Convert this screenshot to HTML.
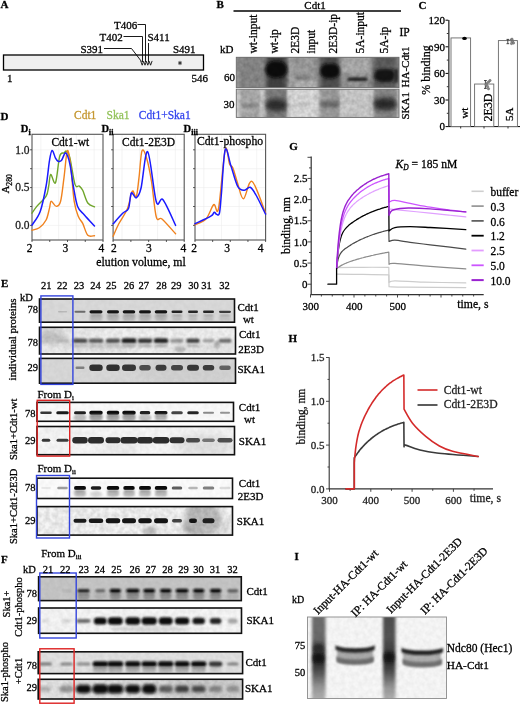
<!DOCTYPE html>
<html><head><meta charset="utf-8"><style>
html,body{margin:0;padding:0;background:#fff;}
body{width:520px;height:706px;overflow:hidden;}
svg{display:block;}
text{font-family:"Liberation Serif",serif;stroke:currentColor;stroke-width:0.28px;}
svg{filter:blur(0.3px);}
</style></head><body>
<svg width="520" height="706" viewBox="0 0 520 706">
<defs>
<filter id="b06" x="-50%" y="-50%" width="200%" height="200%"><feGaussianBlur stdDeviation="0.6"/></filter>
<filter id="b1" x="-50%" y="-50%" width="200%" height="200%"><feGaussianBlur stdDeviation="1"/></filter>
<filter id="b15" x="-50%" y="-50%" width="200%" height="200%"><feGaussianBlur stdDeviation="1.5"/></filter>
<filter id="b25" x="-50%" y="-50%" width="200%" height="200%"><feGaussianBlur stdDeviation="2.5"/></filter>
<filter id="b4" x="-50%" y="-50%" width="200%" height="200%"><feGaussianBlur stdDeviation="4"/></filter>
<filter id="noise" x="0" y="0" width="100%" height="100%"><feTurbulence type="fractalNoise" baseFrequency="0.22" numOctaves="2" seed="3"/><feColorMatrix type="matrix" values="0 0 0 0 0  0 0 0 0 0  0 0 0 0 0  0 0 0 -1.4 1.05"/></filter>
</defs>
<rect x="0" y="0" width="520" height="706" fill="#fff"/>
<text x="0.50" y="8.20" font-size="11" fill="#000" color="#000" font-weight="bold" text-anchor="start"  style="">A</text>
<rect x="3.50" y="55.00" width="200.00" height="15.00" fill="#efefef" stroke="#000" stroke-width="1.3" />
<text x="7.00" y="82.00" font-size="11" fill="#000" color="#000" font-weight="normal" text-anchor="start"  style="">1</text>
<text x="191.50" y="82.00" font-size="11" fill="#000" color="#000" font-weight="normal" text-anchor="start"  style="">546</text>
<text x="80.50" y="53.00" font-size="11" fill="#000" color="#000" font-weight="normal" text-anchor="start"  style="">S391</text>
<text x="99.50" y="41.00" font-size="11" fill="#000" color="#000" font-weight="normal" text-anchor="start"  style="">T402</text>
<text x="114.00" y="29.00" font-size="11" fill="#000" color="#000" font-weight="normal" text-anchor="start"  style="">T406</text>
<text x="147.50" y="41.00" font-size="11" fill="#000" color="#000" font-weight="normal" text-anchor="start"  style="">S411</text>
<text x="173.00" y="53.00" font-size="11" fill="#000" color="#000" font-weight="normal" text-anchor="start"  style="">S491</text>
<line x1="104.00" y1="48.50" x2="131.50" y2="48.50" stroke="#000" stroke-width="0.9" />
<line x1="131.50" y1="48.50" x2="141.50" y2="61.50" stroke="#000" stroke-width="0.9" />
<line x1="123.50" y1="36.50" x2="142.50" y2="36.50" stroke="#000" stroke-width="0.9" />
<line x1="142.50" y1="36.50" x2="142.50" y2="62.00" stroke="#000" stroke-width="0.9" />
<line x1="137.50" y1="24.50" x2="145.50" y2="24.50" stroke="#000" stroke-width="0.9" />
<line x1="145.50" y1="24.50" x2="145.50" y2="62.00" stroke="#000" stroke-width="0.9" />
<line x1="148.50" y1="43.00" x2="148.50" y2="62.00" stroke="#000" stroke-width="0.9" />
<path d="M140.8,61.3 L142.20,65.2 L143.60,61.3 L145.00,65.2 L146.40,61.3 L147.80,65.2 L149.20,61.3 L150.60,65.2 L152.00,61.3" fill="none" stroke="#111" stroke-width="0.9" stroke-linejoin="round" stroke-linecap="round" />
<line x1="180.00" y1="60.90" x2="180.00" y2="65.10" stroke="#222" stroke-width="0.9" />
<line x1="178.18" y1="61.95" x2="181.82" y2="64.05" stroke="#222" stroke-width="0.9" />
<line x1="181.82" y1="61.95" x2="178.18" y2="64.05" stroke="#222" stroke-width="0.9" />
<text x="216.50" y="8.00" font-size="11" fill="#000" color="#000" font-weight="bold" text-anchor="start"  style="">B</text>
<line x1="233.50" y1="11.00" x2="401.00" y2="11.00" stroke="#000" stroke-width="1.6" />
<text x="315.00" y="9.00" font-size="11" fill="#000" color="#000" font-weight="normal" text-anchor="middle"  style="">Cdt1</text>
<text x="220.00" y="52.50" font-size="11" fill="#000" color="#000" font-weight="normal" text-anchor="start"  style="">kD</text>
<text transform="translate(256.50,53.50) rotate(-90)" font-size="11.5" fill="#000">wt-input</text>
<text transform="translate(278.20,53.50) rotate(-90)" font-size="11.5" fill="#000">wt-ip</text>
<text transform="translate(299.20,53.50) rotate(-90)" font-size="11.5" fill="#000">2E3D</text>
<text transform="translate(314.80,53.50) rotate(-90)" font-size="11.5" fill="#000">input</text>
<text transform="translate(337.40,53.50) rotate(-90)" font-size="11.5" fill="#000">2E3D-ip</text>
<text transform="translate(364.20,53.50) rotate(-90)" font-size="11.5" fill="#000">5A-input</text>
<text transform="translate(388.40,53.50) rotate(-90)" font-size="11.5" fill="#000">5A-ip</text>
<text x="399.50" y="35.80" font-size="11.5" fill="#000" color="#000" font-weight="normal" text-anchor="start"  style="">IP</text>
<text x="224.00" y="80.50" font-size="11" fill="#000" color="#000" font-weight="normal" text-anchor="start"  style="">60</text>
<text x="223.50" y="108.00" font-size="11" fill="#000" color="#000" font-weight="normal" text-anchor="start"  style="">30</text>
<text transform="translate(408.50,87.50) rotate(-90)" font-size="11" fill="#000">HA-Cdt1</text>
<text transform="translate(408.50,119.50) rotate(-90)" font-size="11" fill="#000">SKA1</text>
<text x="418.50" y="8.50" font-size="11" fill="#000" color="#000" font-weight="bold" text-anchor="start"  style="">C</text>
<line x1="448.80" y1="20.00" x2="448.80" y2="126.60" stroke="#555" stroke-width="1.6" />
<line x1="448.30" y1="126.60" x2="520.00" y2="126.60" stroke="#000" stroke-width="1" />
<line x1="445.50" y1="126.60" x2="448.30" y2="126.60" stroke="#000" stroke-width="1" />
<text x="445.00" y="130.30" font-size="11" fill="#000" color="#000" font-weight="normal" text-anchor="end"  style="">0</text>
<line x1="445.50" y1="100.00" x2="448.30" y2="100.00" stroke="#000" stroke-width="1" />
<text x="445.00" y="103.70" font-size="11" fill="#000" color="#000" font-weight="normal" text-anchor="end"  style="">30</text>
<line x1="445.50" y1="73.40" x2="448.30" y2="73.40" stroke="#000" stroke-width="1" />
<text x="445.00" y="77.10" font-size="11" fill="#000" color="#000" font-weight="normal" text-anchor="end"  style="">60</text>
<line x1="445.50" y1="46.80" x2="448.30" y2="46.80" stroke="#000" stroke-width="1" />
<text x="445.00" y="50.50" font-size="11" fill="#000" color="#000" font-weight="normal" text-anchor="end"  style="">90</text>
<line x1="445.50" y1="20.20" x2="448.30" y2="20.20" stroke="#000" stroke-width="1" />
<text x="445.00" y="23.90" font-size="11" fill="#000" color="#000" font-weight="normal" text-anchor="end"  style="">120</text>
<line x1="446.80" y1="113.30" x2="448.30" y2="113.30" stroke="#000" stroke-width="0.8" />
<line x1="446.80" y1="86.70" x2="448.30" y2="86.70" stroke="#000" stroke-width="0.8" />
<line x1="446.80" y1="60.10" x2="448.30" y2="60.10" stroke="#000" stroke-width="0.8" />
<line x1="446.80" y1="33.50" x2="448.30" y2="33.50" stroke="#000" stroke-width="0.8" />
<rect x="451.00" y="37.93" width="19.60" height="88.67" fill="#fff" stroke="#6a6a6a" stroke-width="0.9" />
<rect x="474.60" y="84.04" width="19.20" height="42.56" fill="#fff" stroke="#6a6a6a" stroke-width="0.9" />
<rect x="498.40" y="40.59" width="19.00" height="86.01" fill="#fff" stroke="#6a6a6a" stroke-width="0.9" />
<line x1="460.70" y1="126.60" x2="460.70" y2="128.50" stroke="#000" stroke-width="0.8" />
<line x1="484.00" y1="126.60" x2="484.00" y2="128.50" stroke="#000" stroke-width="0.8" />
<line x1="508.00" y1="126.60" x2="508.00" y2="128.50" stroke="#000" stroke-width="0.8" />
<ellipse cx="464.5" cy="38.4" rx="2.3" ry="1.6" fill="#000"/>
<line x1="485.40" y1="80.50" x2="485.40" y2="88.40" stroke="#333" stroke-width="0.9" />
<line x1="484.00" y1="80.50" x2="486.80" y2="80.50" stroke="#333" stroke-width="0.9" />
<line x1="484.00" y1="88.40" x2="486.80" y2="88.40" stroke="#333" stroke-width="0.9" />
<circle cx="486.5" cy="83.5" r="1.2" fill="#8a8a8a" stroke="#555" stroke-width="0.4"/>
<circle cx="488.5" cy="82" r="1.2" fill="#8a8a8a" stroke="#555" stroke-width="0.4"/>
<circle cx="490" cy="80.5" r="1.2" fill="#8a8a8a" stroke="#555" stroke-width="0.4"/>
<circle cx="487.5" cy="86.5" r="1.2" fill="#8a8a8a" stroke="#555" stroke-width="0.4"/>
<circle cx="488.5" cy="88.8" r="1.2" fill="#8a8a8a" stroke="#555" stroke-width="0.4"/>
<circle cx="486" cy="84.8" r="1.2" fill="#8a8a8a" stroke="#555" stroke-width="0.4"/>
<line x1="507.80" y1="39.40" x2="507.80" y2="43.70" stroke="#333" stroke-width="0.9" />
<line x1="506.50" y1="39.40" x2="509.10" y2="39.40" stroke="#333" stroke-width="0.9" />
<line x1="506.50" y1="43.70" x2="509.10" y2="43.70" stroke="#333" stroke-width="0.9" />
<circle cx="511" cy="40" r="1.2" fill="#8a8a8a" stroke="#555" stroke-width="0.4"/>
<circle cx="512.5" cy="41.5" r="1.2" fill="#8a8a8a" stroke="#555" stroke-width="0.4"/>
<circle cx="513.5" cy="43" r="1.2" fill="#8a8a8a" stroke="#555" stroke-width="0.4"/>
<circle cx="511.5" cy="43.5" r="1.2" fill="#8a8a8a" stroke="#555" stroke-width="0.4"/>
<circle cx="512" cy="39.2" r="1.2" fill="#8a8a8a" stroke="#555" stroke-width="0.4"/>
<text transform="translate(467.50,118.60) rotate(-90)" font-size="11" fill="#000">wt</text>
<text transform="translate(491.70,121.60) rotate(-90)" font-size="12" fill="#000">2E3D</text>
<text transform="translate(513.00,121.00) rotate(-90)" font-size="11" fill="#000">5A</text>
<text transform="translate(429.6,70) rotate(-90)" font-size="12" text-anchor="middle">% binding</text>
<text x="0.50" y="119.50" font-size="11" fill="#000" color="#000" font-weight="bold" text-anchor="start"  style="">D</text>
<text x="74.00" y="118.70" font-size="11.5" fill="#c4962e" color="#c4962e" font-weight="normal" text-anchor="start"  style="">Cdt1</text>
<text x="106.50" y="118.70" font-size="11.5" fill="#94c35c" color="#94c35c" font-weight="normal" text-anchor="start"  style="">Ska1</text>
<text x="138.80" y="118.70" font-size="11.5" fill="#3344ee" color="#3344ee" font-weight="normal" text-anchor="start"  style="">Cdt1+Ska1</text>
<line x1="32.00" y1="225.40" x2="103.00" y2="225.40" stroke="#ececec" stroke-width="0.6" />
<line x1="32.00" y1="206.50" x2="103.00" y2="206.50" stroke="#ececec" stroke-width="0.6" />
<line x1="32.00" y1="187.60" x2="103.00" y2="187.60" stroke="#ececec" stroke-width="0.6" />
<line x1="32.00" y1="168.70" x2="103.00" y2="168.70" stroke="#ececec" stroke-width="0.6" />
<line x1="32.00" y1="149.80" x2="103.00" y2="149.80" stroke="#ececec" stroke-width="0.6" />
<line x1="40.88" y1="134.30" x2="40.88" y2="240.00" stroke="#ececec" stroke-width="0.6" />
<line x1="58.62" y1="134.30" x2="58.62" y2="240.00" stroke="#ececec" stroke-width="0.6" />
<line x1="76.38" y1="134.30" x2="76.38" y2="240.00" stroke="#ececec" stroke-width="0.6" />
<line x1="94.12" y1="134.30" x2="94.12" y2="240.00" stroke="#ececec" stroke-width="0.6" />
<rect x="32.00" y="134.30" width="71.00" height="105.70" fill="none" stroke="#555" stroke-width="1.1" />
<line x1="30.00" y1="225.40" x2="32.00" y2="225.40" stroke="#333" stroke-width="0.8" />
<line x1="30.00" y1="206.50" x2="32.00" y2="206.50" stroke="#333" stroke-width="0.8" />
<line x1="30.00" y1="187.60" x2="32.00" y2="187.60" stroke="#333" stroke-width="0.8" />
<line x1="30.00" y1="168.70" x2="32.00" y2="168.70" stroke="#333" stroke-width="0.8" />
<line x1="30.00" y1="149.80" x2="32.00" y2="149.80" stroke="#333" stroke-width="0.8" />
<line x1="32.00" y1="240.00" x2="32.00" y2="242.00" stroke="#333" stroke-width="0.8" />
<line x1="49.75" y1="240.00" x2="49.75" y2="242.00" stroke="#333" stroke-width="0.8" />
<line x1="67.50" y1="240.00" x2="67.50" y2="242.00" stroke="#333" stroke-width="0.8" />
<line x1="85.25" y1="240.00" x2="85.25" y2="242.00" stroke="#333" stroke-width="0.8" />
<line x1="103.00" y1="240.00" x2="103.00" y2="242.00" stroke="#333" stroke-width="0.8" />
<line x1="113.10" y1="225.40" x2="184.20" y2="225.40" stroke="#ececec" stroke-width="0.6" />
<line x1="113.10" y1="206.50" x2="184.20" y2="206.50" stroke="#ececec" stroke-width="0.6" />
<line x1="113.10" y1="187.60" x2="184.20" y2="187.60" stroke="#ececec" stroke-width="0.6" />
<line x1="113.10" y1="168.70" x2="184.20" y2="168.70" stroke="#ececec" stroke-width="0.6" />
<line x1="113.10" y1="149.80" x2="184.20" y2="149.80" stroke="#ececec" stroke-width="0.6" />
<line x1="121.99" y1="134.30" x2="121.99" y2="240.00" stroke="#ececec" stroke-width="0.6" />
<line x1="139.76" y1="134.30" x2="139.76" y2="240.00" stroke="#ececec" stroke-width="0.6" />
<line x1="157.54" y1="134.30" x2="157.54" y2="240.00" stroke="#ececec" stroke-width="0.6" />
<line x1="175.31" y1="134.30" x2="175.31" y2="240.00" stroke="#ececec" stroke-width="0.6" />
<rect x="113.10" y="134.30" width="71.10" height="105.70" fill="none" stroke="#555" stroke-width="1.1" />
<line x1="111.10" y1="225.40" x2="113.10" y2="225.40" stroke="#333" stroke-width="0.8" />
<line x1="111.10" y1="206.50" x2="113.10" y2="206.50" stroke="#333" stroke-width="0.8" />
<line x1="111.10" y1="187.60" x2="113.10" y2="187.60" stroke="#333" stroke-width="0.8" />
<line x1="111.10" y1="168.70" x2="113.10" y2="168.70" stroke="#333" stroke-width="0.8" />
<line x1="111.10" y1="149.80" x2="113.10" y2="149.80" stroke="#333" stroke-width="0.8" />
<line x1="113.10" y1="240.00" x2="113.10" y2="242.00" stroke="#333" stroke-width="0.8" />
<line x1="130.88" y1="240.00" x2="130.88" y2="242.00" stroke="#333" stroke-width="0.8" />
<line x1="148.65" y1="240.00" x2="148.65" y2="242.00" stroke="#333" stroke-width="0.8" />
<line x1="166.42" y1="240.00" x2="166.42" y2="242.00" stroke="#333" stroke-width="0.8" />
<line x1="184.20" y1="240.00" x2="184.20" y2="242.00" stroke="#333" stroke-width="0.8" />
<line x1="195.00" y1="225.40" x2="265.60" y2="225.40" stroke="#ececec" stroke-width="0.6" />
<line x1="195.00" y1="206.50" x2="265.60" y2="206.50" stroke="#ececec" stroke-width="0.6" />
<line x1="195.00" y1="187.60" x2="265.60" y2="187.60" stroke="#ececec" stroke-width="0.6" />
<line x1="195.00" y1="168.70" x2="265.60" y2="168.70" stroke="#ececec" stroke-width="0.6" />
<line x1="195.00" y1="149.80" x2="265.60" y2="149.80" stroke="#ececec" stroke-width="0.6" />
<line x1="203.82" y1="134.30" x2="203.82" y2="240.00" stroke="#ececec" stroke-width="0.6" />
<line x1="221.48" y1="134.30" x2="221.48" y2="240.00" stroke="#ececec" stroke-width="0.6" />
<line x1="239.12" y1="134.30" x2="239.12" y2="240.00" stroke="#ececec" stroke-width="0.6" />
<line x1="256.78" y1="134.30" x2="256.78" y2="240.00" stroke="#ececec" stroke-width="0.6" />
<rect x="195.00" y="134.30" width="70.60" height="105.70" fill="none" stroke="#555" stroke-width="1.1" />
<line x1="193.00" y1="225.40" x2="195.00" y2="225.40" stroke="#333" stroke-width="0.8" />
<line x1="193.00" y1="206.50" x2="195.00" y2="206.50" stroke="#333" stroke-width="0.8" />
<line x1="193.00" y1="187.60" x2="195.00" y2="187.60" stroke="#333" stroke-width="0.8" />
<line x1="193.00" y1="168.70" x2="195.00" y2="168.70" stroke="#333" stroke-width="0.8" />
<line x1="193.00" y1="149.80" x2="195.00" y2="149.80" stroke="#333" stroke-width="0.8" />
<line x1="195.00" y1="240.00" x2="195.00" y2="242.00" stroke="#333" stroke-width="0.8" />
<line x1="212.65" y1="240.00" x2="212.65" y2="242.00" stroke="#333" stroke-width="0.8" />
<line x1="230.30" y1="240.00" x2="230.30" y2="242.00" stroke="#333" stroke-width="0.8" />
<line x1="247.95" y1="240.00" x2="247.95" y2="242.00" stroke="#333" stroke-width="0.8" />
<line x1="265.60" y1="240.00" x2="265.60" y2="242.00" stroke="#333" stroke-width="0.8" />
<text x="29.60" y="153.70" font-size="11.5" fill="#222" color="#222" font-weight="normal" text-anchor="end"  style="">1.0</text>
<text x="29.60" y="191.30" font-size="11.5" fill="#222" color="#222" font-weight="normal" text-anchor="end"  style="">0.5</text>
<text x="29.60" y="229.30" font-size="11.5" fill="#222" color="#222" font-weight="normal" text-anchor="end"  style="">0.0</text>
<text transform="translate(8.8,193.6) rotate(-90)" font-size="11">A<tspan font-size="7.7" dy="3.3">280</tspan></text>
<text x="96.30" y="266.00" font-size="11.8" fill="#000" color="#000" font-weight="normal" text-anchor="start"  style="">elution volume, ml</text>
<text x="29.60" y="251.70" font-size="11.5" fill="#000" color="#000" font-weight="normal" text-anchor="middle"  style="">2</text>
<text x="65.30" y="251.70" font-size="11.5" fill="#000" color="#000" font-weight="normal" text-anchor="middle"  style="">3</text>
<text x="101.40" y="251.70" font-size="11.5" fill="#000" color="#000" font-weight="normal" text-anchor="middle"  style="">4</text>
<text x="113.80" y="251.70" font-size="11.5" fill="#000" color="#000" font-weight="normal" text-anchor="middle"  style="">2</text>
<text x="148.80" y="251.70" font-size="11.5" fill="#000" color="#000" font-weight="normal" text-anchor="middle"  style="">3</text>
<text x="183.40" y="251.70" font-size="11.5" fill="#000" color="#000" font-weight="normal" text-anchor="middle"  style="">4</text>
<text x="194.00" y="251.70" font-size="11.5" fill="#000" color="#000" font-weight="normal" text-anchor="middle"  style="">2</text>
<text x="227.10" y="251.70" font-size="11.5" fill="#000" color="#000" font-weight="normal" text-anchor="middle"  style="">3</text>
<text x="260.60" y="251.70" font-size="11.5" fill="#000" color="#000" font-weight="normal" text-anchor="middle"  style="">4</text>
<text x="20.8" y="132" font-size="10.5" font-weight="bold">D<tspan font-size="8" dy="2.5">i</tspan></text>
<text x="101.4" y="132" font-size="10.5" font-weight="bold">D<tspan font-size="8" dy="2.5">ii</tspan></text>
<text x="183.6" y="132" font-size="10.5" font-weight="bold">D<tspan font-size="8" dy="2.5">iii</tspan></text>
<text x="70.30" y="145.50" font-size="11.5" fill="#000" color="#000" font-weight="normal" text-anchor="middle"  style="">Cdt1-wt</text>
<text x="148.60" y="145.50" font-size="11.5" fill="#000" color="#000" font-weight="normal" text-anchor="middle"  style="">Cdt1-2E3D</text>
<text x="230.00" y="145.20" font-size="11.7" fill="#000" color="#000" font-weight="normal" text-anchor="middle"  style="">Cdt1-phospho</text>
<path d="M32.00,213.20 C32.80,212.07 34.45,209.23 36.80,206.40 C39.15,203.57 44.12,199.60 46.10,196.20 C48.08,192.80 47.93,189.62 48.70,186.00 C49.47,182.38 49.57,175.05 50.70,174.50 C51.83,173.95 54.00,185.73 55.50,182.70 C57.00,179.67 58.28,161.27 59.70,156.30 C61.12,151.33 62.87,153.75 64.00,152.90 C65.13,152.05 65.52,150.35 66.50,151.20 C67.48,152.05 68.48,152.47 69.90,158.00 C71.32,163.53 73.43,179.73 75.00,184.40 C76.57,189.07 78.02,185.02 79.30,186.00 C80.58,186.98 81.28,187.47 82.70,190.30 C84.12,193.13 85.83,200.25 87.80,203.00 C89.77,205.75 93.38,206.17 94.50,206.80" fill="none" stroke="#6fa52a" stroke-width="1.4" stroke-linejoin="round" stroke-linecap="round" />
<path d="M32.00,230.20 C33.22,229.78 36.95,229.40 39.30,227.70 C41.65,226.00 44.40,223.27 46.10,220.00 C47.80,216.73 48.65,211.22 49.50,208.10 C50.35,204.98 50.07,201.58 51.20,201.30 C52.33,201.02 54.73,206.40 56.30,206.40 C57.87,206.40 59.32,206.10 60.60,201.30 C61.88,196.50 62.87,186.03 64.00,177.60 C65.13,169.17 66.27,152.40 67.40,150.70 C68.53,149.00 69.67,158.97 70.80,167.40 C71.93,175.83 72.93,193.10 74.20,201.30 C75.47,209.50 76.98,212.92 78.40,216.60 C79.82,220.28 81.13,220.28 82.70,223.40 C84.27,226.52 85.83,233.25 87.80,235.30 C89.77,237.35 93.38,235.63 94.50,235.70" fill="none" stroke="#f0821e" stroke-width="1.4" stroke-linejoin="round" stroke-linecap="round" />
<path d="M32.00,225.10 C33.37,222.83 37.85,218.02 40.20,211.50 C42.55,204.98 44.55,194.50 46.10,186.00 C47.65,177.50 48.50,166.43 49.50,160.50 C50.50,154.57 51.10,150.78 52.10,150.40 C53.10,150.02 54.52,156.40 55.50,158.20 C56.48,160.00 57.02,160.80 58.00,161.20 C58.98,161.60 60.12,161.98 61.40,160.60 C62.68,159.22 64.28,152.33 65.70,152.90 C67.12,153.47 68.63,158.48 69.90,164.00 C71.17,169.52 72.02,178.93 73.30,186.00 C74.58,193.07 75.75,201.58 77.60,206.40 C79.45,211.22 81.58,211.63 84.40,214.90 C87.22,218.17 92.82,224.15 94.50,226.00" fill="none" stroke="#1a1aff" stroke-width="1.5" stroke-linejoin="round" stroke-linecap="round" />
<path d="M113.10,236.30 C114.05,234.22 116.40,228.43 118.80,223.80 C121.20,219.17 125.25,213.93 127.50,208.50 C129.75,203.07 130.85,193.13 132.30,191.20 C133.75,189.27 135.08,199.15 136.20,196.90 C137.32,194.65 138.03,185.38 139.00,177.70 C139.97,170.02 140.72,154.00 142.00,150.80 C143.28,147.60 145.12,153.38 146.70,158.50 C148.28,163.62 149.90,171.75 151.50,181.50 C153.10,191.25 154.55,210.75 156.30,217.00 C158.05,223.25 158.78,216.20 162.00,219.00 C165.22,221.80 173.33,231.33 175.60,233.80" fill="none" stroke="#f0821e" stroke-width="1.4" stroke-linejoin="round" stroke-linecap="round" />
<path d="M113.10,223.80 C114.70,222.05 120.13,215.85 122.70,213.30 C125.27,210.75 127.07,211.88 128.50,208.50 C129.93,205.12 130.02,194.77 131.30,193.00 C132.58,191.23 134.58,198.68 136.20,197.90 C137.82,197.12 139.08,196.00 141.00,188.30 C142.92,180.60 145.15,149.47 147.70,151.70 C150.25,153.93 153.75,193.68 156.30,201.70 C158.85,209.72 159.78,195.85 163.00,199.80 C166.22,203.75 173.50,221.13 175.60,225.40" fill="none" stroke="#1a1aff" stroke-width="1.5" stroke-linejoin="round" stroke-linecap="round" />
<path d="M195.00,224.80 C196.83,223.83 202.88,222.37 206.00,219.00 C209.12,215.63 211.62,206.35 213.70,204.60 C215.78,202.85 216.58,217.63 218.50,208.50 C220.42,199.37 223.35,157.18 225.20,149.80 C227.05,142.42 228.32,161.17 229.60,164.20 C230.88,167.23 231.55,164.78 232.90,168.00 C234.25,171.22 235.93,178.37 237.70,183.50 C239.47,188.63 241.10,199.13 243.50,198.80 C245.90,198.47 248.42,179.08 252.10,181.50 C255.78,183.92 263.35,208.00 265.60,213.30" fill="none" stroke="#f0821e" stroke-width="1.4" stroke-linejoin="round" stroke-linecap="round" />
<path d="M195.00,223.80 C197.63,222.53 207.60,218.12 210.80,216.20 C214.00,214.28 213.25,212.63 214.20,212.30 C215.15,211.97 215.63,214.03 216.50,214.20 C217.37,214.37 218.60,216.50 219.40,213.30 C220.20,210.10 220.33,205.58 221.30,195.00 C222.27,184.42 223.58,154.63 225.20,149.80 C226.82,144.97 228.92,159.92 231.00,166.00 C233.08,172.08 235.47,182.27 237.70,186.30 C239.93,190.33 242.32,190.03 244.40,190.20 C246.48,190.37 248.27,186.50 250.20,187.30 C252.13,188.10 253.43,190.52 256.00,195.00 C258.57,199.48 264.00,211.00 265.60,214.20" fill="none" stroke="#1a1aff" stroke-width="1.5" stroke-linejoin="round" stroke-linecap="round" />
<text x="289.30" y="149.60" font-size="11" fill="#000" color="#000" font-weight="bold" text-anchor="start"  style="">G</text>
<line x1="311.20" y1="156.50" x2="311.20" y2="295.00" stroke="#333" stroke-width="1.2" />
<line x1="310.60" y1="294.60" x2="483.70" y2="294.60" stroke="#333" stroke-width="1.2" />
<line x1="307.50" y1="284.20" x2="311.20" y2="284.20" stroke="#333" stroke-width="0.9" />
<line x1="309.00" y1="273.62" x2="311.20" y2="273.62" stroke="#333" stroke-width="0.9" />
<line x1="307.50" y1="263.05" x2="311.20" y2="263.05" stroke="#333" stroke-width="0.9" />
<line x1="309.00" y1="252.47" x2="311.20" y2="252.47" stroke="#333" stroke-width="0.9" />
<line x1="307.50" y1="241.90" x2="311.20" y2="241.90" stroke="#333" stroke-width="0.9" />
<line x1="309.00" y1="231.32" x2="311.20" y2="231.32" stroke="#333" stroke-width="0.9" />
<line x1="307.50" y1="220.75" x2="311.20" y2="220.75" stroke="#333" stroke-width="0.9" />
<line x1="309.00" y1="210.18" x2="311.20" y2="210.18" stroke="#333" stroke-width="0.9" />
<line x1="307.50" y1="199.60" x2="311.20" y2="199.60" stroke="#333" stroke-width="0.9" />
<line x1="309.00" y1="189.02" x2="311.20" y2="189.02" stroke="#333" stroke-width="0.9" />
<line x1="307.50" y1="178.45" x2="311.20" y2="178.45" stroke="#333" stroke-width="0.9" />
<line x1="309.00" y1="167.88" x2="311.20" y2="167.88" stroke="#333" stroke-width="0.9" />
<line x1="307.50" y1="157.30" x2="311.20" y2="157.30" stroke="#333" stroke-width="0.9" />
<text x="307.50" y="287.90" font-size="11" fill="#000" color="#000" font-weight="normal" text-anchor="end"  style="">0</text>
<text x="307.50" y="266.75" font-size="11" fill="#000" color="#000" font-weight="normal" text-anchor="end"  style="">0.5</text>
<text x="307.50" y="245.60" font-size="11" fill="#000" color="#000" font-weight="normal" text-anchor="end"  style="">1.0</text>
<text x="307.50" y="224.45" font-size="11" fill="#000" color="#000" font-weight="normal" text-anchor="end"  style="">1.5</text>
<text x="307.50" y="203.30" font-size="11" fill="#000" color="#000" font-weight="normal" text-anchor="end"  style="">2.0</text>
<text x="307.50" y="182.15" font-size="11" fill="#000" color="#000" font-weight="normal" text-anchor="end"  style="">2.5</text>
<line x1="310.50" y1="294.60" x2="310.50" y2="297.50" stroke="#333" stroke-width="0.9" />
<line x1="321.38" y1="294.60" x2="321.38" y2="296.50" stroke="#333" stroke-width="0.9" />
<line x1="332.25" y1="294.60" x2="332.25" y2="296.50" stroke="#333" stroke-width="0.9" />
<line x1="343.12" y1="294.60" x2="343.12" y2="296.50" stroke="#333" stroke-width="0.9" />
<line x1="354.00" y1="294.60" x2="354.00" y2="297.50" stroke="#333" stroke-width="0.9" />
<line x1="364.88" y1="294.60" x2="364.88" y2="296.50" stroke="#333" stroke-width="0.9" />
<line x1="375.75" y1="294.60" x2="375.75" y2="296.50" stroke="#333" stroke-width="0.9" />
<line x1="386.62" y1="294.60" x2="386.62" y2="296.50" stroke="#333" stroke-width="0.9" />
<line x1="397.50" y1="294.60" x2="397.50" y2="297.50" stroke="#333" stroke-width="0.9" />
<line x1="408.38" y1="294.60" x2="408.38" y2="296.50" stroke="#333" stroke-width="0.9" />
<line x1="419.25" y1="294.60" x2="419.25" y2="296.50" stroke="#333" stroke-width="0.9" />
<line x1="430.12" y1="294.60" x2="430.12" y2="296.50" stroke="#333" stroke-width="0.9" />
<line x1="441.00" y1="294.60" x2="441.00" y2="297.50" stroke="#333" stroke-width="0.9" />
<line x1="451.88" y1="294.60" x2="451.88" y2="296.50" stroke="#333" stroke-width="0.9" />
<line x1="462.75" y1="294.60" x2="462.75" y2="296.50" stroke="#333" stroke-width="0.9" />
<line x1="473.62" y1="294.60" x2="473.62" y2="296.50" stroke="#333" stroke-width="0.9" />
<text x="310.80" y="310.20" font-size="11" fill="#000" color="#000" font-weight="normal" text-anchor="middle"  style="">300</text>
<text x="354.30" y="310.20" font-size="11" fill="#000" color="#000" font-weight="normal" text-anchor="middle"  style="">400</text>
<text x="397.80" y="310.20" font-size="11" fill="#000" color="#000" font-weight="normal" text-anchor="middle"  style="">500</text>
<text x="457.30" y="308.30" font-size="11.7" fill="#000" color="#000" font-weight="normal" text-anchor="start"  style="">time, s</text>
<text transform="translate(289.5,254) rotate(-90)" font-size="11.8">binding, nm</text>
<text x="395.5" y="168.3" font-size="11.6"><tspan font-style="italic">K</tspan><tspan font-size="7.5" dy="2" font-style="italic">D</tspan><tspan dy="-2"> = 185 nM</tspan></text>
<path d="M336.60,267.70 L336.60,267.70 C340.95,267.63 354.00,267.35 362.70,267.28 C371.40,267.21 384.45,267.28 388.80,267.28 L389.02,282.51 C390.00,282.23 389.13,280.89 394.89,280.82 C400.65,280.75 411.78,281.73 423.60,282.08 C435.42,282.44 458.76,282.79 465.79,282.93" fill="none" stroke="#cdcdcd" stroke-width="1.2" stroke-linejoin="round" stroke-linecap="round" />
<path d="M336.60,274.05 L336.60,274.05 C340.95,274.12 354.00,274.33 362.70,274.47 C371.40,274.61 384.45,274.82 388.80,274.89 L389.02,286.74 C391.88,286.81 393.40,287.02 406.20,287.16 C419.00,287.30 455.86,287.51 465.79,287.58" fill="none" stroke="#cdcdcd" stroke-width="1.2" stroke-linejoin="round" stroke-linecap="round" />
<path d="M336.60,268.55 L336.60,268.55 C336.64,268.52 336.75,268.43 336.82,268.38 C336.89,268.32 336.93,268.29 337.04,268.21 C337.14,268.12 337.33,267.99 337.47,267.88 C337.62,267.77 337.76,267.67 337.90,267.56 C338.05,267.46 338.12,267.40 338.34,267.26 C338.56,267.11 338.92,266.86 339.21,266.67 C339.50,266.49 339.79,266.30 340.08,266.13 C340.37,265.95 340.66,265.78 340.95,265.62 C341.24,265.45 341.46,265.33 341.82,265.14 C342.18,264.94 342.69,264.68 343.12,264.46 C343.56,264.24 344.00,264.04 344.43,263.84 C344.87,263.64 345.30,263.44 345.74,263.26 C346.17,263.07 346.61,262.89 347.04,262.71 C347.48,262.54 347.91,262.37 348.35,262.20 C348.78,262.03 349.21,261.87 349.65,261.71 C350.08,261.56 350.52,261.40 350.95,261.25 C351.39,261.10 351.82,260.95 352.26,260.81 C352.69,260.67 353.13,260.52 353.56,260.39 C354.00,260.25 354.44,260.11 354.87,259.98 C355.31,259.84 355.74,259.71 356.18,259.58 C356.61,259.45 357.05,259.32 357.48,259.20 C357.92,259.07 358.35,258.95 358.78,258.83 C359.22,258.70 359.65,258.58 360.09,258.46 C360.52,258.34 360.96,258.23 361.39,258.11 C361.83,257.99 362.26,257.88 362.70,257.77 C363.13,257.65 363.57,257.54 364.00,257.43 C364.44,257.32 364.88,257.21 365.31,257.10 C365.75,256.99 366.18,256.88 366.62,256.77 C367.05,256.67 367.49,256.56 367.92,256.46 C368.36,256.35 368.79,256.25 369.23,256.15 C369.66,256.04 370.09,255.94 370.53,255.84 C370.96,255.74 371.40,255.64 371.83,255.54 C372.27,255.44 372.70,255.34 373.14,255.25 C373.57,255.15 374.01,255.05 374.44,254.96 C374.88,254.86 375.31,254.76 375.75,254.67 C376.19,254.58 376.62,254.48 377.06,254.39 C377.49,254.30 377.93,254.20 378.36,254.11 C378.80,254.02 379.23,253.93 379.67,253.84 C380.10,253.75 380.54,253.66 380.97,253.57 C381.41,253.48 381.84,253.40 382.27,253.31 C382.71,253.22 383.14,253.14 383.58,253.05 C384.01,252.96 384.45,252.88 384.88,252.80 C385.32,252.71 385.75,252.63 386.19,252.54 C386.62,252.46 387.06,252.38 387.50,252.30 C387.93,252.21 388.58,252.09 388.80,252.05 L389.02,264.32 C390.00,264.18 388.04,263.12 394.89,263.47 C401.74,263.83 418.31,265.52 430.12,266.43 C441.94,267.35 459.85,268.55 465.79,268.97" fill="none" stroke="#8c8c8c" stroke-width="1.2" stroke-linejoin="round" stroke-linecap="round" />
<path d="M336.60,268.55 L336.60,268.55 C336.64,268.25 336.75,267.33 336.82,266.76 C336.89,266.20 336.93,265.89 337.04,265.17 C337.14,264.46 337.33,263.30 337.47,262.49 C337.62,261.68 337.76,260.99 337.90,260.34 C338.05,259.69 338.12,259.32 338.34,258.59 C338.56,257.87 338.92,256.73 339.21,255.99 C339.50,255.25 339.79,254.70 340.08,254.17 C340.37,253.64 340.66,253.21 340.95,252.81 C341.24,252.40 341.46,252.13 341.82,251.74 C342.18,251.34 342.69,250.83 343.12,250.43 C343.56,250.03 344.00,249.68 344.43,249.33 C344.87,248.98 345.30,248.66 345.74,248.34 C346.17,248.02 346.61,247.71 347.04,247.41 C347.48,247.11 347.91,246.82 348.35,246.53 C348.78,246.25 349.21,245.97 349.65,245.69 C350.08,245.41 350.52,245.14 350.95,244.88 C351.39,244.61 351.82,244.35 352.26,244.09 C352.69,243.83 353.13,243.58 353.56,243.33 C354.00,243.08 354.44,242.84 354.87,242.60 C355.31,242.36 355.74,242.12 356.18,241.89 C356.61,241.66 357.05,241.43 357.48,241.20 C357.92,240.98 358.35,240.76 358.78,240.54 C359.22,240.32 359.65,240.11 360.09,239.90 C360.52,239.69 360.96,239.48 361.39,239.28 C361.83,239.07 362.26,238.87 362.70,238.68 C363.13,238.48 363.57,238.29 364.00,238.10 C364.44,237.91 364.88,237.72 365.31,237.53 C365.75,237.35 366.18,237.17 366.62,236.99 C367.05,236.81 367.49,236.64 367.92,236.47 C368.36,236.29 368.79,236.12 369.23,235.96 C369.66,235.79 370.09,235.63 370.53,235.47 C370.96,235.31 371.40,235.15 371.83,234.99 C372.27,234.83 372.70,234.68 373.14,234.53 C373.57,234.38 374.01,234.23 374.44,234.09 C374.88,233.94 375.31,233.80 375.75,233.66 C376.19,233.51 376.62,233.38 377.06,233.24 C377.49,233.10 377.93,232.97 378.36,232.84 C378.80,232.70 379.23,232.57 379.67,232.45 C380.10,232.32 380.54,232.19 380.97,232.07 C381.41,231.95 381.84,231.83 382.27,231.71 C382.71,231.59 383.14,231.47 383.58,231.35 C384.01,231.24 384.45,231.12 384.88,231.01 C385.32,230.90 385.75,230.79 386.19,230.68 C386.62,230.58 387.06,230.47 387.50,230.36 C387.93,230.26 388.58,230.11 388.80,230.06 L389.02,241.48 C390.00,241.27 391.37,240.07 394.89,240.21 C398.41,240.35 404.24,241.55 410.12,242.32 C415.99,243.10 423.45,244.05 430.12,244.86 C436.80,245.67 444.19,246.48 450.13,247.19 C456.08,247.89 463.18,248.77 465.79,249.09" fill="none" stroke="#4a4a4a" stroke-width="1.2" stroke-linejoin="round" stroke-linecap="round" />
<path d="M336.60,268.55 L336.60,268.55 C336.64,268.05 336.75,266.50 336.82,265.54 C336.89,264.57 336.93,264.04 337.04,262.77 C337.14,261.49 337.33,259.38 337.47,257.87 C337.62,256.36 337.76,254.99 337.90,253.71 C338.05,252.42 338.12,251.69 338.34,250.17 C338.56,248.64 338.92,246.18 339.21,244.55 C339.50,242.92 339.79,241.60 340.08,240.38 C340.37,239.17 340.66,238.17 340.95,237.24 C341.24,236.31 341.46,235.67 341.82,234.81 C342.18,233.95 342.69,232.87 343.12,232.06 C343.56,231.26 344.00,230.62 344.43,230.00 C344.87,229.38 345.30,228.86 345.74,228.35 C346.17,227.84 346.61,227.40 347.04,226.96 C347.48,226.52 347.91,226.12 348.35,225.73 C348.78,225.34 349.21,224.97 349.65,224.61 C350.08,224.26 350.52,223.91 350.95,223.58 C351.39,223.24 351.82,222.92 352.26,222.60 C352.69,222.28 353.13,221.97 353.56,221.67 C354.00,221.37 354.44,221.07 354.87,220.78 C355.31,220.49 355.74,220.21 356.18,219.93 C356.61,219.65 357.05,219.38 357.48,219.11 C357.92,218.84 358.35,218.58 358.78,218.32 C359.22,218.07 359.65,217.81 360.09,217.57 C360.52,217.32 360.96,217.08 361.39,216.84 C361.83,216.60 362.26,216.36 362.70,216.13 C363.13,215.90 363.57,215.68 364.00,215.46 C364.44,215.23 364.88,215.02 365.31,214.80 C365.75,214.59 366.18,214.38 366.62,214.17 C367.05,213.97 367.49,213.77 367.92,213.57 C368.36,213.37 368.79,213.17 369.23,212.98 C369.66,212.79 370.09,212.60 370.53,212.42 C370.96,212.23 371.40,212.05 371.83,211.88 C372.27,211.70 372.70,211.52 373.14,211.35 C373.57,211.18 374.01,211.01 374.44,210.85 C374.88,210.68 375.31,210.52 375.75,210.36 C376.19,210.20 376.62,210.05 377.06,209.89 C377.49,209.74 377.93,209.59 378.36,209.44 C378.80,209.29 379.23,209.15 379.67,209.01 C380.10,208.86 380.54,208.72 380.97,208.59 C381.41,208.45 381.84,208.31 382.27,208.18 C382.71,208.05 383.14,207.92 383.58,207.79 C384.01,207.66 384.45,207.54 384.88,207.42 C385.32,207.29 385.75,207.17 386.19,207.05 C386.62,206.93 387.06,206.82 387.50,206.70 C387.93,206.59 388.58,206.42 388.80,206.37 L389.02,230.90 C390.00,230.34 391.37,228.22 394.89,227.52 C398.41,226.81 404.24,226.67 410.12,226.67 C415.99,226.67 420.85,227.02 430.12,227.52 C439.40,228.01 459.85,229.28 465.79,229.63" fill="none" stroke="#000000" stroke-width="1.3" stroke-linejoin="round" stroke-linecap="round" />
<path d="M336.60,268.55 L336.60,268.55 C336.64,268.06 336.75,266.58 336.82,265.63 C336.89,264.69 336.93,264.18 337.04,262.87 C337.14,261.55 337.33,259.37 337.47,257.75 C337.62,256.13 337.76,254.60 337.90,253.14 C338.05,251.67 338.12,250.86 338.34,248.97 C338.56,247.08 338.92,243.98 339.21,241.80 C339.50,239.63 339.79,237.71 340.08,235.92 C340.37,234.13 340.66,232.54 340.95,231.06 C341.24,229.57 341.46,228.50 341.82,227.01 C342.18,225.52 342.69,223.58 343.12,222.12 C343.56,220.67 344.00,219.44 344.43,218.29 C344.87,217.14 345.30,216.15 345.74,215.22 C346.17,214.29 346.61,213.48 347.04,212.70 C347.48,211.93 347.91,211.24 348.35,210.59 C348.78,209.93 349.21,209.33 349.65,208.76 C350.08,208.19 350.52,207.67 350.95,207.17 C351.39,206.66 351.82,206.19 352.26,205.73 C352.69,205.28 353.13,204.85 353.56,204.43 C354.00,204.01 354.44,203.62 354.87,203.23 C355.31,202.85 355.74,202.48 356.18,202.11 C356.61,201.75 357.05,201.40 357.48,201.06 C357.92,200.72 358.35,200.39 358.78,200.07 C359.22,199.75 359.65,199.44 360.09,199.13 C360.52,198.82 360.96,198.52 361.39,198.23 C361.83,197.94 362.26,197.65 362.70,197.37 C363.13,197.09 363.57,196.81 364.00,196.55 C364.44,196.28 364.88,196.01 365.31,195.75 C365.75,195.50 366.18,195.24 366.62,195.00 C367.05,194.75 367.49,194.50 367.92,194.26 C368.36,194.03 368.79,193.79 369.23,193.56 C369.66,193.33 370.09,193.11 370.53,192.89 C370.96,192.66 371.40,192.45 371.83,192.23 C372.27,192.02 372.70,191.81 373.14,191.61 C373.57,191.40 374.01,191.20 374.44,191.00 C374.88,190.80 375.31,190.61 375.75,190.42 C376.19,190.23 376.62,190.04 377.06,189.86 C377.49,189.68 377.93,189.49 378.36,189.32 C378.80,189.14 379.23,188.97 379.67,188.80 C380.10,188.63 380.54,188.46 380.97,188.29 C381.41,188.13 381.84,187.97 382.27,187.81 C382.71,187.65 383.14,187.50 383.58,187.34 C384.01,187.19 384.45,187.04 384.88,186.89 C385.32,186.75 385.75,186.60 386.19,186.46 C386.62,186.32 387.06,186.18 387.50,186.04 C387.93,185.91 388.58,185.71 388.80,185.64 L389.02,208.91 C390.87,209.12 393.26,209.47 400.11,210.18 C406.96,210.88 421.79,212.29 430.12,213.14 C438.46,213.98 444.19,214.62 450.13,215.25 C456.08,215.89 463.18,216.66 465.79,216.94" fill="none" stroke="#e0a0ff" stroke-width="1.2" stroke-linejoin="round" stroke-linecap="round" />
<path d="M336.60,268.55 L336.60,268.55 C336.64,267.97 336.75,266.18 336.82,265.05 C336.89,263.92 336.93,263.31 337.04,261.76 C337.14,260.21 337.33,257.64 337.47,255.75 C337.62,253.86 337.76,252.09 337.90,250.42 C338.05,248.74 338.12,247.80 338.34,245.69 C338.56,243.57 338.92,240.11 339.21,237.73 C339.50,235.34 339.79,233.28 340.08,231.36 C340.37,229.44 340.66,227.78 340.95,226.22 C341.24,224.66 341.46,223.55 341.82,222.02 C342.18,220.48 342.69,218.50 343.12,217.01 C343.56,215.53 344.00,214.29 344.43,213.12 C344.87,211.94 345.30,210.94 345.74,209.98 C346.17,209.03 346.61,208.18 347.04,207.38 C347.48,206.57 347.91,205.85 348.35,205.15 C348.78,204.45 349.21,203.81 349.65,203.20 C350.08,202.58 350.52,202.00 350.95,201.44 C351.39,200.89 351.82,200.36 352.26,199.85 C352.69,199.34 353.13,198.85 353.56,198.38 C354.00,197.91 354.44,197.46 354.87,197.01 C355.31,196.57 355.74,196.15 356.18,195.73 C356.61,195.32 357.05,194.92 357.48,194.53 C357.92,194.14 358.35,193.76 358.78,193.39 C359.22,193.03 359.65,192.67 360.09,192.32 C360.52,191.97 360.96,191.63 361.39,191.30 C361.83,190.97 362.26,190.65 362.70,190.33 C363.13,190.02 363.57,189.71 364.00,189.42 C364.44,189.12 364.88,188.83 365.31,188.54 C365.75,188.26 366.18,187.98 366.62,187.71 C367.05,187.44 367.49,187.18 367.92,186.92 C368.36,186.67 368.79,186.42 369.23,186.17 C369.66,185.93 370.09,185.69 370.53,185.46 C370.96,185.23 371.40,185.00 371.83,184.78 C372.27,184.56 372.70,184.35 373.14,184.14 C373.57,183.93 374.01,183.72 374.44,183.52 C374.88,183.32 375.31,183.13 375.75,182.94 C376.19,182.75 376.62,182.56 377.06,182.38 C377.49,182.20 377.93,182.03 378.36,181.85 C378.80,181.68 379.23,181.51 379.67,181.35 C380.10,181.19 380.54,181.03 380.97,180.87 C381.41,180.72 381.84,180.56 382.27,180.42 C382.71,180.27 383.14,180.12 383.58,179.98 C384.01,179.84 384.45,179.70 384.88,179.57 C385.32,179.44 385.75,179.31 386.19,179.18 C386.62,179.05 387.06,178.93 387.50,178.81 C387.93,178.68 388.58,178.51 388.80,178.45 L389.02,202.14 C390.00,201.86 391.37,200.23 394.89,200.45 C398.41,200.66 404.24,202.28 410.12,203.41 C415.99,204.53 423.45,206.09 430.12,207.21 C436.80,208.34 444.19,209.40 450.13,210.18 C456.08,210.95 463.18,211.58 465.79,211.87" fill="none" stroke="#cc55ff" stroke-width="1.3" stroke-linejoin="round" stroke-linecap="round" />
<path d="M336.60,268.55 L336.60,268.55 C336.64,267.86 336.75,265.75 336.82,264.42 C336.89,263.09 336.93,262.37 337.04,260.57 C337.14,258.77 337.33,255.78 337.47,253.61 C337.62,251.43 337.76,249.42 337.90,247.52 C338.05,245.62 338.12,244.54 338.34,242.19 C338.56,239.83 338.92,235.99 339.21,233.38 C339.50,230.77 339.79,228.57 340.08,226.53 C340.37,224.48 340.66,222.74 340.95,221.12 C341.24,219.49 341.46,218.35 341.82,216.79 C342.18,215.23 342.69,213.23 343.12,211.75 C343.56,210.27 344.00,209.05 344.43,207.91 C344.87,206.76 345.30,205.78 345.74,204.86 C346.17,203.93 346.61,203.12 347.04,202.34 C347.48,201.57 347.91,200.87 348.35,200.19 C348.78,199.52 349.21,198.90 349.65,198.31 C350.08,197.71 350.52,197.15 350.95,196.61 C351.39,196.07 351.82,195.55 352.26,195.05 C352.69,194.55 353.13,194.08 353.56,193.62 C354.00,193.15 354.44,192.71 354.87,192.27 C355.31,191.84 355.74,191.42 356.18,191.01 C356.61,190.60 357.05,190.21 357.48,189.82 C357.92,189.43 358.35,189.06 358.78,188.69 C359.22,188.33 359.65,187.97 360.09,187.63 C360.52,187.28 360.96,186.94 361.39,186.61 C361.83,186.28 362.26,185.96 362.70,185.65 C363.13,185.34 363.57,185.03 364.00,184.74 C364.44,184.44 364.88,184.15 365.31,183.87 C365.75,183.58 366.18,183.31 366.62,183.04 C367.05,182.77 367.49,182.51 367.92,182.25 C368.36,182.00 368.79,181.75 369.23,181.50 C369.66,181.26 370.09,181.02 370.53,180.79 C370.96,180.56 371.40,180.34 371.83,180.12 C372.27,179.90 372.70,179.68 373.14,179.47 C373.57,179.26 374.01,179.06 374.44,178.86 C374.88,178.66 375.31,178.47 375.75,178.28 C376.19,178.09 376.62,177.90 377.06,177.72 C377.49,177.54 377.93,177.37 378.36,177.19 C378.80,177.02 379.23,176.85 379.67,176.69 C380.10,176.53 380.54,176.37 380.97,176.21 C381.41,176.06 381.84,175.91 382.27,175.76 C382.71,175.61 383.14,175.47 383.58,175.33 C384.01,175.19 384.45,175.05 384.88,174.92 C385.32,174.78 385.75,174.65 386.19,174.52 C386.62,174.40 387.06,174.27 387.50,174.15 C387.93,174.03 388.58,173.86 388.80,173.80 L389.02,215.25 C389.49,214.48 390.00,211.73 391.85,210.60 C393.69,209.47 397.06,208.91 400.11,208.48 C403.16,208.06 405.11,207.99 410.12,208.06 C415.12,208.13 423.45,208.48 430.12,208.91 C436.80,209.33 444.19,210.10 450.13,210.60 C456.08,211.09 463.18,211.66 465.79,211.87" fill="none" stroke="#9a22d0" stroke-width="1.4" stroke-linejoin="round" stroke-linecap="round" />
<path d="M327.90,284.20 L336.60,284.20 L336.60,268.55" fill="none" stroke="#000" stroke-width="1.3" stroke-linejoin="round" stroke-linecap="round" />
<line x1="471.50" y1="191.30" x2="483.70" y2="191.30" stroke="#cfcfcf" stroke-width="1.6" />
<text x="490.40" y="196.00" font-size="11.5" fill="#000" color="#000" font-weight="normal" text-anchor="start"  style="">buffer</text>
<line x1="471.50" y1="206.10" x2="483.70" y2="206.10" stroke="#8f8f8f" stroke-width="1.6" />
<text x="490.40" y="210.80" font-size="11.5" fill="#000" color="#000" font-weight="normal" text-anchor="start"  style="">0.3</text>
<line x1="471.50" y1="220.90" x2="483.70" y2="220.90" stroke="#505050" stroke-width="1.6" />
<text x="490.40" y="225.60" font-size="11.5" fill="#000" color="#000" font-weight="normal" text-anchor="start"  style="">0.6</text>
<line x1="471.50" y1="235.70" x2="483.70" y2="235.70" stroke="#000" stroke-width="1.8" />
<text x="490.40" y="240.40" font-size="11.5" fill="#000" color="#000" font-weight="normal" text-anchor="start"  style="">1.2</text>
<line x1="471.50" y1="250.50" x2="483.70" y2="250.50" stroke="#e39cff" stroke-width="1.8" />
<text x="490.40" y="255.20" font-size="11.5" fill="#000" color="#000" font-weight="normal" text-anchor="start"  style="">2.5</text>
<line x1="471.50" y1="265.30" x2="483.70" y2="265.30" stroke="#cc55ff" stroke-width="1.8" />
<text x="490.40" y="270.00" font-size="11.5" fill="#000" color="#000" font-weight="normal" text-anchor="start"  style="">5.0</text>
<line x1="471.50" y1="280.10" x2="483.70" y2="280.10" stroke="#9a22d0" stroke-width="2" />
<text x="490.40" y="284.80" font-size="11.5" fill="#000" color="#000" font-weight="normal" text-anchor="start"  style="">10.0</text>
<text x="288.50" y="342.00" font-size="11" fill="#000" color="#000" font-weight="bold" text-anchor="start"  style="">H</text>
<line x1="329.20" y1="357.20" x2="329.20" y2="489.00" stroke="#333" stroke-width="1.1" />
<line x1="328.80" y1="488.90" x2="493.00" y2="488.90" stroke="#333" stroke-width="1.1" />
<line x1="326.00" y1="488.90" x2="329.20" y2="488.90" stroke="#333" stroke-width="0.9" />
<line x1="327.50" y1="467.00" x2="329.20" y2="467.00" stroke="#333" stroke-width="0.9" />
<line x1="326.00" y1="445.10" x2="329.20" y2="445.10" stroke="#333" stroke-width="0.9" />
<line x1="327.50" y1="423.20" x2="329.20" y2="423.20" stroke="#333" stroke-width="0.9" />
<line x1="326.00" y1="401.30" x2="329.20" y2="401.30" stroke="#333" stroke-width="0.9" />
<line x1="327.50" y1="379.40" x2="329.20" y2="379.40" stroke="#333" stroke-width="0.9" />
<line x1="326.00" y1="357.50" x2="329.20" y2="357.50" stroke="#333" stroke-width="0.9" />
<text x="324.50" y="492.60" font-size="11" fill="#222" color="#222" font-weight="normal" text-anchor="end"  style="">0.0</text>
<text x="324.50" y="448.80" font-size="11" fill="#222" color="#222" font-weight="normal" text-anchor="end"  style="">0.5</text>
<text x="324.50" y="405.00" font-size="11" fill="#222" color="#222" font-weight="normal" text-anchor="end"  style="">1.0</text>
<text x="324.50" y="361.20" font-size="11" fill="#222" color="#222" font-weight="normal" text-anchor="end"  style="">1.5</text>
<line x1="329.50" y1="488.90" x2="329.50" y2="491.80" stroke="#333" stroke-width="0.9" />
<line x1="350.15" y1="488.90" x2="350.15" y2="490.80" stroke="#333" stroke-width="0.9" />
<line x1="370.80" y1="488.90" x2="370.80" y2="491.80" stroke="#333" stroke-width="0.9" />
<line x1="391.45" y1="488.90" x2="391.45" y2="490.80" stroke="#333" stroke-width="0.9" />
<line x1="412.10" y1="488.90" x2="412.10" y2="491.80" stroke="#333" stroke-width="0.9" />
<line x1="432.75" y1="488.90" x2="432.75" y2="490.80" stroke="#333" stroke-width="0.9" />
<line x1="453.40" y1="488.90" x2="453.40" y2="491.80" stroke="#333" stroke-width="0.9" />
<line x1="474.05" y1="488.90" x2="474.05" y2="490.80" stroke="#333" stroke-width="0.9" />
<text x="329.50" y="503.80" font-size="11" fill="#222" color="#222" font-weight="normal" text-anchor="middle"  style="">300</text>
<text x="370.80" y="503.80" font-size="11" fill="#222" color="#222" font-weight="normal" text-anchor="middle"  style="">400</text>
<text x="412.10" y="503.80" font-size="11" fill="#222" color="#222" font-weight="normal" text-anchor="middle"  style="">500</text>
<text x="453.40" y="503.80" font-size="11" fill="#222" color="#222" font-weight="normal" text-anchor="middle"  style="">600</text>
<text x="469.80" y="501.80" font-size="11.7" fill="#222" color="#222" font-weight="normal" text-anchor="start"  style="">time, s</text>
<text transform="translate(304.8,444.5) rotate(-90)" font-size="11.5" fill="#222">binding, nm</text>
<path d="M346.02,488.90 L354.28,488.90 L354.28,457.80 L354.28,457.80 C354.31,457.75 354.42,457.59 354.49,457.48 C354.56,457.38 354.59,457.33 354.69,457.17 C354.80,457.01 354.97,456.75 355.11,456.55 C355.24,456.34 355.38,456.14 355.52,455.94 C355.66,455.74 355.73,455.63 355.93,455.34 C356.14,455.04 356.48,454.55 356.76,454.17 C357.03,453.78 357.31,453.40 357.58,453.03 C357.86,452.66 358.13,452.29 358.41,451.93 C358.69,451.57 358.89,451.30 359.24,450.87 C359.58,450.44 360.06,449.83 360.48,449.33 C360.89,448.83 361.30,448.35 361.71,447.87 C362.13,447.39 362.54,446.93 362.95,446.47 C363.37,446.01 363.78,445.57 364.19,445.13 C364.61,444.70 365.02,444.27 365.43,443.86 C365.84,443.44 366.26,443.03 366.67,442.63 C367.08,442.23 367.50,441.85 367.91,441.46 C368.32,441.08 368.74,440.71 369.15,440.34 C369.56,439.98 369.97,439.62 370.39,439.27 C370.80,438.92 371.21,438.58 371.63,438.25 C372.04,437.91 372.45,437.58 372.87,437.26 C373.28,436.94 373.69,436.63 374.10,436.32 C374.52,436.01 374.93,435.71 375.34,435.42 C375.76,435.12 376.17,434.84 376.58,434.55 C377.00,434.27 377.41,433.99 377.82,433.72 C378.23,433.45 378.65,433.19 379.06,432.93 C379.47,432.67 379.89,432.41 380.30,432.16 C380.71,431.92 381.12,431.67 381.54,431.43 C381.95,431.19 382.36,430.96 382.78,430.73 C383.19,430.50 383.60,430.28 384.02,430.06 C384.43,429.84 384.84,429.62 385.25,429.41 C385.67,429.20 386.08,428.99 386.49,428.79 C386.91,428.59 387.32,428.39 387.73,428.20 C388.15,428.00 388.56,427.81 388.97,427.62 C389.38,427.44 389.80,427.26 390.21,427.08 C390.62,426.90 391.04,426.72 391.45,426.55 C391.86,426.38 392.28,426.21 392.69,426.05 C393.10,425.88 393.51,425.72 393.93,425.56 C394.34,425.40 394.75,425.25 395.17,425.10 C395.58,424.94 395.99,424.80 396.41,424.65 C396.82,424.50 397.23,424.36 397.64,424.22 C398.06,424.08 398.47,423.94 398.88,423.81 C399.30,423.68 399.71,423.54 400.12,423.42 C400.54,423.29 400.95,423.16 401.36,423.04 C401.77,422.91 402.19,422.79 402.60,422.67 C403.01,422.55 403.63,422.38 403.84,422.32 L404.05,446.85 C404.29,446.56 403.12,444.66 405.49,445.10 C407.87,445.54 413.06,448.17 418.30,449.48 C423.53,450.79 426.90,451.82 436.88,452.98 C446.86,454.15 471.30,455.90 478.18,456.49" fill="none" stroke="#3a3a3a" stroke-width="1.6" stroke-linejoin="round" stroke-linecap="round" />
<path d="M346.02,488.90 L354.28,488.90 L354.28,462.62 L354.28,462.62 C354.31,462.20 354.42,460.89 354.49,460.08 C354.56,459.26 354.59,458.81 354.69,457.72 C354.80,456.62 354.97,454.81 355.11,453.50 C355.24,452.19 355.38,450.99 355.52,449.85 C355.66,448.71 355.73,448.07 355.93,446.66 C356.14,445.24 356.48,442.95 356.76,441.36 C357.03,439.76 357.31,438.40 357.58,437.10 C357.86,435.81 358.13,434.67 358.41,433.57 C358.69,432.48 358.89,431.70 359.24,430.55 C359.58,429.40 360.06,427.87 360.48,426.65 C360.89,425.44 361.30,424.34 361.71,423.26 C362.13,422.19 362.54,421.19 362.95,420.21 C363.37,419.24 363.78,418.31 364.19,417.40 C364.61,416.50 365.02,415.63 365.43,414.78 C365.84,413.93 366.26,413.11 366.67,412.31 C367.08,411.51 367.50,410.74 367.91,409.98 C368.32,409.22 368.74,408.48 369.15,407.76 C369.56,407.04 369.97,406.34 370.39,405.66 C370.80,404.98 371.21,404.31 371.63,403.66 C372.04,403.01 372.45,402.37 372.87,401.76 C373.28,401.14 373.69,400.53 374.10,399.94 C374.52,399.35 374.93,398.78 375.34,398.22 C375.76,397.66 376.17,397.11 376.58,396.58 C377.00,396.04 377.41,395.52 377.82,395.01 C378.23,394.50 378.65,394.01 379.06,393.53 C379.47,393.04 379.89,392.57 380.30,392.11 C380.71,391.65 381.12,391.20 381.54,390.76 C381.95,390.32 382.36,389.89 382.78,389.47 C383.19,389.06 383.60,388.65 384.02,388.25 C384.43,387.85 384.84,387.47 385.25,387.09 C385.67,386.71 386.08,386.34 386.49,385.98 C386.91,385.62 387.32,385.26 387.73,384.92 C388.15,384.58 388.56,384.24 388.97,383.92 C389.38,383.59 389.80,383.27 390.21,382.96 C390.62,382.65 391.04,382.34 391.45,382.05 C391.86,381.75 392.28,381.46 392.69,381.18 C393.10,380.90 393.51,380.62 393.93,380.35 C394.34,380.09 394.75,379.82 395.17,379.57 C395.58,379.31 395.99,379.06 396.41,378.82 C396.82,378.57 397.23,378.34 397.64,378.11 C398.06,377.87 398.47,377.65 398.88,377.43 C399.30,377.21 399.71,376.99 400.12,376.78 C400.54,376.57 400.95,376.36 401.36,376.16 C401.77,375.96 402.19,375.77 402.60,375.58 C403.01,375.39 403.63,375.11 403.84,375.02 L404.05,409.18 C405.46,411.52 408.90,418.67 412.51,423.20 C416.13,427.73 421.25,432.54 425.73,436.34 C430.20,440.14 434.88,443.49 439.36,445.98 C443.83,448.46 446.10,449.48 452.57,451.23 C459.04,452.98 473.91,455.61 478.18,456.49" fill="none" stroke="#d42a2a" stroke-width="1.6" stroke-linejoin="round" stroke-linecap="round" />
<line x1="417.50" y1="390.00" x2="437.50" y2="390.00" stroke="#d42a2a" stroke-width="1.6" />
<line x1="417.50" y1="405.00" x2="437.50" y2="405.00" stroke="#333" stroke-width="1.6" />
<text x="443.70" y="393.50" font-size="11.7" fill="#222" color="#222" font-weight="normal" text-anchor="start"  style="">Cdt1-wt</text>
<text x="443.70" y="407.80" font-size="11.7" fill="#222" color="#222" font-weight="normal" text-anchor="start"  style="">Cdt1-2E3D</text>
<clipPath id="c1"><rect x="236.3" y="57.3" width="162.7" height="30.299999999999997"/></clipPath>
<g clip-path="url(#c1)">
<rect x="236.30" y="57.30" width="162.70" height="30.30" fill="#9a9a9a" stroke="none" stroke-width="1" />
<rect x="239" y="50" width="23" height="45" fill="#8a8a8a" opacity="0.9" filter="url(#b25)"/>
<rect x="287.5" y="50" width="5.0" height="45" fill="#bdbdbd" opacity="0.9" filter="url(#b15)"/>
<rect x="292" y="50" width="26" height="45" fill="#a2a2a2" opacity="0.9" filter="url(#b15)"/>
<rect x="295" y="80" width="21" height="15" fill="#c0c0c0" opacity="0.8" filter="url(#b25)"/>
<rect x="266" y="50" width="21" height="45" fill="#3a3a3a" opacity="0.9" filter="url(#b25)"/>
<rect x="320" y="50" width="20" height="45" fill="#4a4a4a" opacity="0.9" filter="url(#b25)"/>
<rect x="341" y="50" width="30" height="24" fill="#b5b5b5" opacity="0.9" filter="url(#b25)"/>
<rect x="373" y="50" width="24" height="45" fill="#5a5a5a" opacity="0.9" filter="url(#b25)"/>
<rect x="265.30" y="61.00" width="22.00" height="17.00" rx="8.50" fill="#080808" filter="url(#b15)"/>
<rect x="320.00" y="63.50" width="20.00" height="15.00" rx="7.50" fill="#111" filter="url(#b15)"/>
<rect x="295.00" y="76.00" width="16.00" height="4.00" rx="2.00" fill="#858585" filter="url(#b1)"/>
<rect x="347.60" y="77.50" width="20.00" height="3.40" rx="1.70" fill="#262626" filter="url(#b1)"/>
<rect x="374.00" y="69.00" width="22.00" height="13.00" rx="6.50" fill="#121212" filter="url(#b15)"/>
<rect x="394.00" y="69.00" width="4.00" height="14.00" rx="2.00" fill="#333" filter="url(#b1)"/>
<rect x="236.3" y="57.3" width="162.7" height="30.299999999999997" fill="#000" opacity="0.2" filter="url(#noise)"/>
</g>
<rect x="236.30" y="57.30" width="162.70" height="30.30" fill="none" stroke="#6a6a6a" stroke-width="0.9" />
<clipPath id="c2"><rect x="236.3" y="89.2" width="162.7" height="28.200000000000003"/></clipPath>
<g clip-path="url(#c2)">
<rect x="236.30" y="89.20" width="162.70" height="28.20" fill="#d5d5d5" stroke="none" stroke-width="1" />
<rect x="240" y="80" width="20.5" height="45" fill="#ababab" opacity="0.9" filter="url(#b15)"/>
<rect x="260.5" y="80" width="4.5" height="45" fill="#cccccc" opacity="0.9" filter="url(#b1)"/>
<rect x="265.5" y="80" width="22.0" height="45" fill="#7a7a7a" opacity="0.9" filter="url(#b15)"/>
<rect x="287.5" y="80" width="2.5" height="45" fill="#dddddd" opacity="0.9" filter="url(#b1)"/>
<rect x="290" y="80" width="28" height="45" fill="#e0e0e0" opacity="0.9" filter="url(#b15)"/>
<rect x="319.5" y="80" width="20.5" height="45" fill="#9c9c9c" opacity="0.9" filter="url(#b15)"/>
<rect x="341" y="80" width="30.5" height="45" fill="#cfcfcf" opacity="0.9" filter="url(#b15)"/>
<rect x="371.5" y="80" width="3.0" height="45" fill="#e8e8e8" opacity="0.9" filter="url(#b1)"/>
<rect x="373.5" y="80" width="23.5" height="45" fill="#858585" opacity="0.9" filter="url(#b15)"/>
<rect x="265.80" y="99.00" width="21.00" height="12.00" rx="6.00" fill="#2e2e2e" filter="url(#b25)"/>
<rect x="373.50" y="98.00" width="23.00" height="12.00" rx="6.00" fill="#2a2a2a" filter="url(#b25)"/>
<rect x="320.50" y="100.50" width="19.00" height="7.00" rx="3.50" fill="#707070" filter="url(#b15)"/>
<rect x="241.00" y="103.60" width="18.00" height="4.00" rx="2.00" fill="#8e8e8e" filter="url(#b1)"/>
<rect x="295.00" y="102.50" width="16.00" height="3.00" rx="1.50" fill="#c5c5c5" filter="url(#b1)"/>
<rect x="236.3" y="89.2" width="162.7" height="28.200000000000003" fill="#000" opacity="0.18" filter="url(#noise)"/>
</g>
<rect x="236.30" y="89.20" width="162.70" height="28.20" fill="none" stroke="#6a6a6a" stroke-width="0.9" />
<clipPath id="c3"><rect x="39.5" y="299" width="195.0" height="23.19999999999999"/></clipPath>
<g clip-path="url(#c3)">
<rect x="39.50" y="299.00" width="195.00" height="23.20" fill="#d9d9d9" stroke="none" stroke-width="1" />
<ellipse cx="96" cy="317" rx="6.5" ry="3.5" fill="#b0b0b0" opacity="0.6" filter="url(#b1)"/>
<ellipse cx="113" cy="317" rx="6.5" ry="3.5" fill="#b0b0b0" opacity="0.6" filter="url(#b1)"/>
<ellipse cx="129" cy="317" rx="6.5" ry="3.5" fill="#b0b0b0" opacity="0.6" filter="url(#b1)"/>
<ellipse cx="145" cy="317" rx="6.5" ry="3.5" fill="#b0b0b0" opacity="0.6" filter="url(#b1)"/>
<ellipse cx="161" cy="317" rx="6.5" ry="3.5" fill="#b0b0b0" opacity="0.6" filter="url(#b1)"/>
<rect x="58.00" y="311.05" width="9.00" height="1.50" rx="0.75" fill="#b9b9b9" filter="url(#b06)"/>
<rect x="74.50" y="310.80" width="11.00" height="2.00" rx="1.00" fill="#6e6e6e" filter="url(#b06)"/>
<rect x="89.50" y="310.20" width="13.00" height="3.20" rx="1.60" fill="#191919" filter="url(#b06)"/>
<rect x="107.00" y="310.20" width="12.00" height="3.20" rx="1.60" fill="#141414" filter="url(#b06)"/>
<rect x="122.75" y="310.20" width="12.50" height="3.20" rx="1.60" fill="#141414" filter="url(#b06)"/>
<rect x="139.00" y="310.20" width="12.00" height="3.20" rx="1.60" fill="#191919" filter="url(#b06)"/>
<rect x="154.75" y="310.20" width="12.50" height="3.20" rx="1.60" fill="#141414" filter="url(#b06)"/>
<rect x="171.50" y="310.50" width="11.00" height="2.60" rx="1.30" fill="#232323" filter="url(#b06)"/>
<rect x="188.00" y="310.60" width="10.00" height="2.40" rx="1.20" fill="#282828" filter="url(#b06)"/>
<rect x="203.00" y="310.60" width="11.00" height="2.40" rx="1.20" fill="#282828" filter="url(#b06)"/>
<rect x="219.00" y="310.70" width="12.00" height="2.20" rx="1.10" fill="#3c3c3c" filter="url(#b06)"/>
<rect x="90.02" y="314.50" width="11.96" height="2.20" rx="1.10" fill="#9b9b9b" filter="url(#b1)"/>
<rect x="90.02" y="317.70" width="11.96" height="2.20" rx="1.10" fill="#aeaeae" filter="url(#b1)"/>
<rect x="107.48" y="314.50" width="11.04" height="2.20" rx="1.10" fill="#999999" filter="url(#b1)"/>
<rect x="107.48" y="317.70" width="11.04" height="2.20" rx="1.10" fill="#adadad" filter="url(#b1)"/>
<rect x="123.25" y="314.50" width="11.50" height="2.20" rx="1.10" fill="#999999" filter="url(#b1)"/>
<rect x="123.25" y="317.70" width="11.50" height="2.20" rx="1.10" fill="#adadad" filter="url(#b1)"/>
<rect x="139.48" y="314.50" width="11.04" height="2.20" rx="1.10" fill="#9b9b9b" filter="url(#b1)"/>
<rect x="139.48" y="317.70" width="11.04" height="2.20" rx="1.10" fill="#aeaeae" filter="url(#b1)"/>
<rect x="155.25" y="314.50" width="11.50" height="2.20" rx="1.10" fill="#999999" filter="url(#b1)"/>
<rect x="155.25" y="317.70" width="11.50" height="2.20" rx="1.10" fill="#adadad" filter="url(#b1)"/>
<rect x="171.94" y="314.50" width="10.12" height="2.20" rx="1.10" fill="#9e9e9e" filter="url(#b1)"/>
<rect x="171.94" y="317.70" width="10.12" height="2.20" rx="1.10" fill="#b0b0b0" filter="url(#b1)"/>
<rect x="188.40" y="314.50" width="9.20" height="2.20" rx="1.10" fill="#a0a0a0" filter="url(#b1)"/>
<rect x="188.40" y="317.70" width="9.20" height="2.20" rx="1.10" fill="#b2b2b2" filter="url(#b1)"/>
<rect x="203.44" y="314.50" width="10.12" height="2.20" rx="1.10" fill="#a0a0a0" filter="url(#b1)"/>
<rect x="203.44" y="317.70" width="10.12" height="2.20" rx="1.10" fill="#b2b2b2" filter="url(#b1)"/>
<rect x="219.48" y="314.50" width="11.04" height="2.20" rx="1.10" fill="#a6a6a6" filter="url(#b1)"/>
<rect x="219.48" y="317.70" width="11.04" height="2.20" rx="1.10" fill="#b6b6b6" filter="url(#b1)"/>
<rect x="39.5" y="299" width="195.0" height="23.19999999999999" fill="#000" opacity="0.03" filter="url(#noise)"/>
</g>
<rect x="39.50" y="299.00" width="195.00" height="23.20" fill="none" stroke="#111" stroke-width="1.6" />
<clipPath id="c4"><rect x="39.5" y="327.3" width="196.0" height="26.69999999999999"/></clipPath>
<g clip-path="url(#c4)">
<rect x="39.50" y="327.30" width="196.00" height="26.70" fill="#f2f2f2" stroke="none" stroke-width="1" />
<ellipse cx="52" cy="336" rx="14" ry="8" fill="#b0b0b0" opacity="0.8" filter="url(#b4)"/>
<ellipse cx="100" cy="346" rx="40" ry="4" fill="#cfcfcf" opacity="0.7" filter="url(#b25)"/>
<ellipse cx="180" cy="349" rx="6" ry="3" fill="#999" opacity="0.8" filter="url(#b1)"/>
<ellipse cx="217" cy="345" rx="3" ry="4" fill="#888" opacity="0.8" filter="url(#b1)"/>
<ellipse cx="200" cy="347" rx="40" ry="5" fill="#dddddd" opacity="0.6" filter="url(#b4)"/>
<ellipse cx="75" cy="331" rx="30" ry="4" fill="#e5e5e5" opacity="0.5" filter="url(#b25)"/>
<rect x="39.00" y="339.30" width="14.00" height="3.00" rx="1.50" fill="#c8c8c8" filter="url(#b1)"/>
<rect x="55.50" y="339.30" width="14.00" height="3.00" rx="1.50" fill="#b9b9b9" filter="url(#b1)"/>
<rect x="72.50" y="338.50" width="15.00" height="4.60" rx="2.30" fill="#505050" filter="url(#b1)"/>
<rect x="88.75" y="338.50" width="14.50" height="4.60" rx="2.30" fill="#5f5f5f" filter="url(#b1)"/>
<rect x="105.75" y="338.50" width="14.50" height="4.60" rx="2.30" fill="#555555" filter="url(#b1)"/>
<rect x="121.50" y="338.30" width="15.00" height="5.00" rx="2.50" fill="#232323" filter="url(#b1)"/>
<rect x="137.75" y="338.40" width="14.50" height="4.80" rx="2.40" fill="#373737" filter="url(#b1)"/>
<rect x="153.75" y="338.30" width="14.50" height="5.00" rx="2.50" fill="#282828" filter="url(#b1)"/>
<rect x="170.50" y="338.80" width="13.00" height="4.00" rx="2.00" fill="#969696" filter="url(#b1)"/>
<rect x="186.25" y="338.50" width="13.50" height="4.60" rx="2.30" fill="#464646" filter="url(#b1)"/>
<rect x="202.50" y="339.00" width="12.00" height="3.60" rx="1.80" fill="#a5a5a5" filter="url(#b1)"/>
<rect x="218.50" y="338.80" width="13.00" height="4.00" rx="2.00" fill="#6e6e6e" filter="url(#b1)"/>
<rect x="73.10" y="344.30" width="13.80" height="3.00" rx="1.50" fill="#c0c0c0" filter="url(#b1)"/>
<rect x="89.33" y="344.30" width="13.34" height="3.00" rx="1.50" fill="#c4c4c4" filter="url(#b1)"/>
<rect x="106.33" y="344.30" width="13.34" height="3.00" rx="1.50" fill="#c1c1c1" filter="url(#b1)"/>
<rect x="122.10" y="344.30" width="13.80" height="3.00" rx="1.50" fill="#b2b2b2" filter="url(#b1)"/>
<rect x="138.33" y="344.30" width="13.34" height="3.00" rx="1.50" fill="#b8b8b8" filter="url(#b1)"/>
<rect x="154.33" y="344.30" width="13.34" height="3.00" rx="1.50" fill="#b4b4b4" filter="url(#b1)"/>
<rect x="186.79" y="344.30" width="12.42" height="3.00" rx="1.50" fill="#bdbdbd" filter="url(#b1)"/>
<rect x="39.5" y="327.3" width="196.0" height="26.69999999999999" fill="#000" opacity="0.1" filter="url(#noise)"/>
</g>
<rect x="39.50" y="327.30" width="196.00" height="26.70" fill="none" stroke="#111" stroke-width="1.6" />
<clipPath id="c5"><rect x="39.5" y="358.4" width="196.0" height="24.80000000000001"/></clipPath>
<g clip-path="url(#c5)">
<rect x="39.50" y="358.40" width="196.00" height="24.80" fill="#d8d8d8" stroke="none" stroke-width="1" />
<ellipse cx="185" cy="372" rx="50" ry="14" fill="#cdcdcd" opacity="0.6" filter="url(#b4)"/>
<rect x="75.50" y="366.55" width="9.00" height="2.50" rx="1.25" fill="#828282" filter="url(#b06)"/>
<rect x="89.25" y="364.55" width="13.50" height="6.50" rx="3.25" fill="#323232" filter="url(#b06)"/>
<rect x="106.25" y="364.55" width="13.50" height="6.50" rx="3.25" fill="#323232" filter="url(#b06)"/>
<rect x="122.00" y="364.55" width="14.00" height="6.50" rx="3.25" fill="#373737" filter="url(#b06)"/>
<rect x="139.25" y="365.05" width="11.50" height="5.50" rx="2.75" fill="#505050" filter="url(#b06)"/>
<rect x="155.50" y="364.80" width="11.00" height="6.00" rx="3.00" fill="#3c3c3c" filter="url(#b06)"/>
<rect x="171.00" y="365.05" width="12.00" height="5.50" rx="2.75" fill="#464646" filter="url(#b06)"/>
<rect x="187.00" y="364.80" width="12.00" height="6.00" rx="3.00" fill="#373737" filter="url(#b06)"/>
<rect x="202.75" y="365.05" width="11.50" height="5.50" rx="2.75" fill="#3c3c3c" filter="url(#b06)"/>
<rect x="219.25" y="365.55" width="11.50" height="4.50" rx="2.25" fill="#646464" filter="url(#b06)"/>
<rect x="39.5" y="358.4" width="196.0" height="24.80000000000001" fill="#000" opacity="0.04" filter="url(#noise)"/>
</g>
<rect x="39.50" y="358.40" width="196.00" height="24.80" fill="none" stroke="#111" stroke-width="1.6" />
<rect x="40.90" y="295.90" width="32.00" height="88.50" fill="none" stroke="#3344dd" stroke-width="1.4" />
<clipPath id="c6"><rect x="37" y="402.4" width="196.5" height="18.900000000000034"/></clipPath>
<g clip-path="url(#c6)">
<rect x="37.00" y="402.40" width="196.50" height="18.90" fill="#fafafa" stroke="none" stroke-width="1" />
<ellipse cx="80" cy="417.5" rx="6.5" ry="4" fill="#999" opacity="0.6" filter="url(#b1)"/>
<ellipse cx="96" cy="417.5" rx="6.5" ry="4" fill="#999" opacity="0.6" filter="url(#b1)"/>
<ellipse cx="113" cy="417.5" rx="6.5" ry="4" fill="#999" opacity="0.6" filter="url(#b1)"/>
<ellipse cx="129" cy="417.5" rx="6.5" ry="4" fill="#999" opacity="0.6" filter="url(#b1)"/>
<ellipse cx="145" cy="417.5" rx="6.5" ry="4" fill="#999" opacity="0.6" filter="url(#b1)"/>
<rect x="40.25" y="411.40" width="11.50" height="2.60" rx="1.30" fill="#373737" filter="url(#b06)"/>
<rect x="56.25" y="411.20" width="12.50" height="3.00" rx="1.50" fill="#1e1e1e" filter="url(#b06)"/>
<rect x="74.00" y="411.20" width="12.00" height="3.00" rx="1.50" fill="#232323" filter="url(#b06)"/>
<rect x="89.25" y="410.70" width="13.50" height="4.00" rx="2.00" fill="#0f0f0f" filter="url(#b06)"/>
<rect x="106.75" y="410.70" width="12.50" height="4.00" rx="2.00" fill="#0f0f0f" filter="url(#b06)"/>
<rect x="122.25" y="410.70" width="13.50" height="4.00" rx="2.00" fill="#0f0f0f" filter="url(#b06)"/>
<rect x="139.75" y="411.10" width="10.50" height="3.20" rx="1.60" fill="#232323" filter="url(#b06)"/>
<rect x="154.50" y="410.95" width="13.00" height="3.50" rx="1.75" fill="#141414" filter="url(#b06)"/>
<rect x="171.25" y="411.20" width="11.50" height="3.00" rx="1.50" fill="#464646" filter="url(#b06)"/>
<rect x="187.25" y="411.20" width="11.50" height="3.00" rx="1.50" fill="#282828" filter="url(#b06)"/>
<rect x="203.00" y="411.70" width="11.00" height="2.00" rx="1.00" fill="#8c8c8c" filter="url(#b06)"/>
<rect x="220.00" y="411.70" width="10.00" height="2.00" rx="1.00" fill="#969696" filter="url(#b06)"/>
<rect x="89.79" y="414.70" width="12.42" height="2.60" rx="1.30" fill="#848484" filter="url(#b1)"/>
<rect x="89.79" y="417.20" width="12.42" height="2.60" rx="1.30" fill="#a0a0a0" filter="url(#b1)"/>
<rect x="107.25" y="414.70" width="11.50" height="2.60" rx="1.30" fill="#848484" filter="url(#b1)"/>
<rect x="107.25" y="417.20" width="11.50" height="2.60" rx="1.30" fill="#a0a0a0" filter="url(#b1)"/>
<rect x="122.79" y="414.70" width="12.42" height="2.60" rx="1.30" fill="#848484" filter="url(#b1)"/>
<rect x="122.79" y="417.20" width="12.42" height="2.60" rx="1.30" fill="#a0a0a0" filter="url(#b1)"/>
<rect x="155.02" y="414.70" width="11.96" height="2.60" rx="1.30" fill="#878787" filter="url(#b1)"/>
<rect x="155.02" y="417.20" width="11.96" height="2.60" rx="1.30" fill="#a2a2a2" filter="url(#b1)"/>
<rect x="37" y="402.4" width="196.5" height="18.900000000000034" fill="#000" opacity="0.04" filter="url(#noise)"/>
</g>
<rect x="37.00" y="402.40" width="196.50" height="18.90" fill="none" stroke="#111" stroke-width="1.6" />
<clipPath id="c7"><rect x="37" y="426.5" width="197.5" height="28.19999999999999"/></clipPath>
<g clip-path="url(#c7)">
<rect x="37.00" y="426.50" width="197.50" height="28.20" fill="#f7f7f7" stroke="none" stroke-width="1" />
<ellipse cx="205" cy="445" rx="30" ry="12" fill="#d8d8d8" opacity="0.7" filter="url(#b4)"/>
<ellipse cx="120" cy="448" rx="20" ry="6" fill="#dddddd" opacity="0.5" filter="url(#b4)"/>
<ellipse cx="60" cy="430" rx="20" ry="3" fill="#eeeeee" opacity="0.5" filter="url(#b25)"/>
<rect x="41.75" y="438.80" width="8.50" height="3.00" rx="1.50" fill="#373737" filter="url(#b06)"/>
<rect x="56.50" y="438.80" width="12.00" height="3.00" rx="1.50" fill="#3c3c3c" filter="url(#b06)"/>
<rect x="72.25" y="437.05" width="15.50" height="6.50" rx="3.25" fill="#2d2d2d" filter="url(#b06)"/>
<rect x="88.00" y="437.05" width="16.00" height="6.50" rx="3.25" fill="#2d2d2d" filter="url(#b06)"/>
<rect x="105.50" y="437.30" width="15.00" height="6.00" rx="3.00" fill="#2d2d2d" filter="url(#b06)"/>
<rect x="120.50" y="437.05" width="17.00" height="6.50" rx="3.25" fill="#2d2d2d" filter="url(#b06)"/>
<rect x="137.00" y="437.05" width="16.00" height="6.50" rx="3.25" fill="#2d2d2d" filter="url(#b06)"/>
<rect x="152.75" y="437.05" width="16.50" height="6.50" rx="3.25" fill="#2d2d2d" filter="url(#b06)"/>
<rect x="169.50" y="437.30" width="15.00" height="6.00" rx="3.00" fill="#323232" filter="url(#b06)"/>
<rect x="186.00" y="438.05" width="14.00" height="4.50" rx="2.25" fill="#4b4b4b" filter="url(#b06)"/>
<rect x="202.25" y="438.55" width="12.50" height="3.50" rx="1.75" fill="#787878" filter="url(#b06)"/>
<rect x="217.50" y="438.05" width="15.00" height="4.50" rx="2.25" fill="#505050" filter="url(#b06)"/>
<rect x="37" y="426.5" width="197.5" height="28.19999999999999" fill="#000" opacity="0.06" filter="url(#noise)"/>
</g>
<rect x="37.00" y="426.50" width="197.50" height="28.20" fill="none" stroke="#111" stroke-width="1.6" />
<rect x="37.20" y="400.30" width="32.50" height="55.80" fill="none" stroke="#dd2222" stroke-width="1.4" />
<clipPath id="c8"><rect x="37" y="478.2" width="195.5" height="20.30000000000001"/></clipPath>
<g clip-path="url(#c8)">
<rect x="37.00" y="478.20" width="195.50" height="20.30" fill="#fcfcfc" stroke="none" stroke-width="1" />
<ellipse cx="80" cy="494" rx="6" ry="3" fill="#bbb" opacity="0.6" filter="url(#b1)"/>
<ellipse cx="96" cy="494" rx="6" ry="3" fill="#bbb" opacity="0.6" filter="url(#b1)"/>
<ellipse cx="113" cy="494" rx="6" ry="3" fill="#bbb" opacity="0.6" filter="url(#b1)"/>
<ellipse cx="129" cy="494" rx="6" ry="3" fill="#bbb" opacity="0.6" filter="url(#b1)"/>
<ellipse cx="145" cy="494" rx="6" ry="3" fill="#bbb" opacity="0.6" filter="url(#b1)"/>
<ellipse cx="161" cy="494" rx="6" ry="3" fill="#bbb" opacity="0.6" filter="url(#b1)"/>
<rect x="41.25" y="487.00" width="9.50" height="2.00" rx="1.00" fill="#ebebeb" filter="url(#b06)"/>
<rect x="57.25" y="486.75" width="10.50" height="2.50" rx="1.25" fill="#a0a0a0" filter="url(#b06)"/>
<rect x="74.00" y="486.10" width="12.00" height="3.80" rx="1.90" fill="#0f0f0f" filter="url(#b06)"/>
<rect x="90.75" y="486.20" width="10.50" height="3.60" rx="1.80" fill="#1e1e1e" filter="url(#b06)"/>
<rect x="106.75" y="486.10" width="12.50" height="3.80" rx="1.90" fill="#0f0f0f" filter="url(#b06)"/>
<rect x="123.25" y="486.10" width="11.50" height="3.80" rx="1.90" fill="#0f0f0f" filter="url(#b06)"/>
<rect x="139.00" y="486.10" width="12.00" height="3.80" rx="1.90" fill="#0f0f0f" filter="url(#b06)"/>
<rect x="154.75" y="486.10" width="12.50" height="3.80" rx="1.90" fill="#0f0f0f" filter="url(#b06)"/>
<rect x="171.75" y="486.50" width="10.50" height="3.00" rx="1.50" fill="#5f5f5f" filter="url(#b06)"/>
<rect x="188.25" y="486.75" width="9.50" height="2.50" rx="1.25" fill="#b9b9b9" filter="url(#b06)"/>
<rect x="202.75" y="486.50" width="11.50" height="3.00" rx="1.50" fill="#828282" filter="url(#b06)"/>
<rect x="219.50" y="486.75" width="11.00" height="2.50" rx="1.25" fill="#dcdcdc" filter="url(#b06)"/>
<rect x="74.48" y="490.30" width="11.04" height="2.40" rx="1.20" fill="#919191" filter="url(#b1)"/>
<rect x="74.48" y="493.10" width="11.04" height="2.40" rx="1.20" fill="#b0b0b0" filter="url(#b1)"/>
<rect x="107.25" y="490.30" width="11.50" height="2.40" rx="1.20" fill="#919191" filter="url(#b1)"/>
<rect x="107.25" y="493.10" width="11.50" height="2.40" rx="1.20" fill="#b0b0b0" filter="url(#b1)"/>
<rect x="123.71" y="490.30" width="10.58" height="2.40" rx="1.20" fill="#919191" filter="url(#b1)"/>
<rect x="123.71" y="493.10" width="10.58" height="2.40" rx="1.20" fill="#b0b0b0" filter="url(#b1)"/>
<rect x="139.48" y="490.30" width="11.04" height="2.40" rx="1.20" fill="#919191" filter="url(#b1)"/>
<rect x="139.48" y="493.10" width="11.04" height="2.40" rx="1.20" fill="#b0b0b0" filter="url(#b1)"/>
<rect x="155.25" y="490.30" width="11.50" height="2.40" rx="1.20" fill="#919191" filter="url(#b1)"/>
<rect x="155.25" y="493.10" width="11.50" height="2.40" rx="1.20" fill="#b0b0b0" filter="url(#b1)"/>
<rect x="37" y="478.2" width="195.5" height="20.30000000000001" fill="#000" opacity="0.04" filter="url(#noise)"/>
</g>
<rect x="37.00" y="478.20" width="195.50" height="20.30" fill="none" stroke="#111" stroke-width="1.6" />
<clipPath id="c9"><rect x="37" y="506.6" width="195.5" height="28.5"/></clipPath>
<g clip-path="url(#c9)">
<rect x="37.00" y="506.60" width="195.50" height="28.50" fill="#f5f5f5" stroke="none" stroke-width="1" />
<ellipse cx="200" cy="512" rx="14" ry="10" fill="#b4b4b4" opacity="0.9" filter="url(#b25)"/>
<ellipse cx="195" cy="526" rx="12" ry="10" fill="#a8a8a8" opacity="0.9" filter="url(#b25)"/>
<ellipse cx="212" cy="520" rx="10" ry="14" fill="#bcbcbc" opacity="0.85" filter="url(#b25)"/>
<ellipse cx="204" cy="520" rx="16" ry="14" fill="#c0c0c0" opacity="0.8" filter="url(#b15)"/>
<ellipse cx="150" cy="532" rx="7" ry="6" fill="#b8b8b8" opacity="0.8" filter="url(#b15)"/>
<ellipse cx="226" cy="527" rx="4" ry="8" fill="#dddddd" opacity="0.6" filter="url(#b15)"/>
<rect x="73.50" y="518.70" width="13.00" height="4.00" rx="2.00" fill="#1e1e1e" filter="url(#b06)"/>
<rect x="88.75" y="518.45" width="14.50" height="4.50" rx="2.25" fill="#1e1e1e" filter="url(#b06)"/>
<rect x="105.75" y="518.20" width="14.50" height="5.00" rx="2.50" fill="#141414" filter="url(#b06)"/>
<rect x="122.00" y="518.20" width="14.00" height="5.00" rx="2.50" fill="#141414" filter="url(#b06)"/>
<rect x="138.25" y="518.20" width="13.50" height="5.00" rx="2.50" fill="#141414" filter="url(#b06)"/>
<rect x="154.00" y="518.20" width="14.00" height="5.00" rx="2.50" fill="#141414" filter="url(#b06)"/>
<rect x="172.00" y="518.95" width="10.00" height="3.50" rx="1.75" fill="#464646" filter="url(#b06)"/>
<rect x="189.00" y="518.45" width="8.00" height="4.50" rx="2.25" fill="#191919" filter="url(#b06)"/>
<rect x="202.50" y="518.20" width="12.00" height="5.00" rx="2.50" fill="#232323" filter="url(#b06)"/>
<rect x="37" y="506.6" width="195.5" height="28.5" fill="#000" opacity="0.14" filter="url(#noise)"/>
</g>
<rect x="37.00" y="506.60" width="195.50" height="28.50" fill="none" stroke="#111" stroke-width="1.6" />
<rect x="36.50" y="475.50" width="33.00" height="62.50" fill="none" stroke="#3344dd" stroke-width="1.4" />
<clipPath id="c10"><rect x="38.6" y="576.8" width="202.70000000000002" height="23.800000000000068"/></clipPath>
<g clip-path="url(#c10)">
<rect x="38.60" y="576.80" width="202.70" height="23.80" fill="#c6c6c6" stroke="none" stroke-width="1" />
<ellipse cx="83.5" cy="596" rx="6" ry="3.5" fill="#9e9e9e" opacity="0.5" filter="url(#b1)"/>
<ellipse cx="100.3" cy="596" rx="6" ry="3.5" fill="#9e9e9e" opacity="0.5" filter="url(#b1)"/>
<ellipse cx="115.3" cy="596" rx="6" ry="3.5" fill="#9e9e9e" opacity="0.5" filter="url(#b1)"/>
<ellipse cx="132.8" cy="596" rx="6" ry="3.5" fill="#9e9e9e" opacity="0.5" filter="url(#b1)"/>
<ellipse cx="149.2" cy="596" rx="6" ry="3.5" fill="#9e9e9e" opacity="0.5" filter="url(#b1)"/>
<ellipse cx="165.7" cy="596" rx="6" ry="3.5" fill="#9e9e9e" opacity="0.5" filter="url(#b1)"/>
<ellipse cx="182.1" cy="596" rx="6" ry="3.5" fill="#9e9e9e" opacity="0.5" filter="url(#b1)"/>
<ellipse cx="198.7" cy="596" rx="6" ry="3.5" fill="#9e9e9e" opacity="0.5" filter="url(#b1)"/>
<ellipse cx="215.6" cy="596" rx="6" ry="3.5" fill="#9e9e9e" opacity="0.5" filter="url(#b1)"/>
<ellipse cx="232.8" cy="596" rx="6" ry="3.5" fill="#9e9e9e" opacity="0.5" filter="url(#b1)"/>
<rect x="62.00" y="589.80" width="9.00" height="2.00" rx="1.00" fill="#afafaf" filter="url(#b1)"/>
<rect x="77.25" y="588.90" width="12.50" height="3.80" rx="1.90" fill="#282828" filter="url(#b1)"/>
<rect x="95.30" y="589.30" width="10.00" height="3.00" rx="1.50" fill="#5f5f5f" filter="url(#b1)"/>
<rect x="109.55" y="588.70" width="11.50" height="4.20" rx="2.10" fill="#0f0f0f" filter="url(#b1)"/>
<rect x="126.05" y="588.70" width="13.50" height="4.20" rx="2.10" fill="#0f0f0f" filter="url(#b1)"/>
<rect x="143.20" y="588.70" width="12.00" height="4.20" rx="2.10" fill="#0f0f0f" filter="url(#b1)"/>
<rect x="159.95" y="588.70" width="11.50" height="4.20" rx="2.10" fill="#0f0f0f" filter="url(#b1)"/>
<rect x="175.60" y="588.70" width="13.00" height="4.20" rx="2.10" fill="#0f0f0f" filter="url(#b1)"/>
<rect x="192.95" y="588.70" width="11.50" height="4.20" rx="2.10" fill="#0f0f0f" filter="url(#b1)"/>
<rect x="209.85" y="588.70" width="11.50" height="4.20" rx="2.10" fill="#0f0f0f" filter="url(#b1)"/>
<rect x="227.30" y="589.20" width="11.00" height="3.20" rx="1.60" fill="#5a5a5a" filter="url(#b1)"/>
<rect x="77.75" y="593.90" width="11.50" height="2.20" rx="1.10" fill="#777777" filter="url(#b1)"/>
<rect x="77.75" y="596.70" width="11.50" height="2.20" rx="1.10" fill="#898989" filter="url(#b1)"/>
<rect x="110.01" y="593.90" width="10.58" height="2.20" rx="1.10" fill="#6a6a6a" filter="url(#b1)"/>
<rect x="110.01" y="596.70" width="10.58" height="2.20" rx="1.10" fill="#808080" filter="url(#b1)"/>
<rect x="126.59" y="593.90" width="12.42" height="2.20" rx="1.10" fill="#6a6a6a" filter="url(#b1)"/>
<rect x="126.59" y="596.70" width="12.42" height="2.20" rx="1.10" fill="#808080" filter="url(#b1)"/>
<rect x="143.68" y="593.90" width="11.04" height="2.20" rx="1.10" fill="#6a6a6a" filter="url(#b1)"/>
<rect x="143.68" y="596.70" width="11.04" height="2.20" rx="1.10" fill="#808080" filter="url(#b1)"/>
<rect x="160.41" y="593.90" width="10.58" height="2.20" rx="1.10" fill="#6a6a6a" filter="url(#b1)"/>
<rect x="160.41" y="596.70" width="10.58" height="2.20" rx="1.10" fill="#808080" filter="url(#b1)"/>
<rect x="176.12" y="593.90" width="11.96" height="2.20" rx="1.10" fill="#6a6a6a" filter="url(#b1)"/>
<rect x="176.12" y="596.70" width="11.96" height="2.20" rx="1.10" fill="#808080" filter="url(#b1)"/>
<rect x="193.41" y="593.90" width="10.58" height="2.20" rx="1.10" fill="#6a6a6a" filter="url(#b1)"/>
<rect x="193.41" y="596.70" width="10.58" height="2.20" rx="1.10" fill="#808080" filter="url(#b1)"/>
<rect x="210.31" y="593.90" width="10.58" height="2.20" rx="1.10" fill="#6a6a6a" filter="url(#b1)"/>
<rect x="210.31" y="596.70" width="10.58" height="2.20" rx="1.10" fill="#808080" filter="url(#b1)"/>
<rect x="38.6" y="576.8" width="202.70000000000002" height="23.800000000000068" fill="#000" opacity="0.05" filter="url(#noise)"/>
</g>
<rect x="38.60" y="576.80" width="202.70" height="23.80" fill="none" stroke="#111" stroke-width="1.6" />
<clipPath id="c11"><rect x="38.6" y="608" width="202.9" height="25.299999999999955"/></clipPath>
<g clip-path="url(#c11)">
<rect x="38.60" y="608.00" width="202.90" height="25.30" fill="#f6f6f6" stroke="none" stroke-width="1" />
<ellipse cx="150" cy="629" rx="40" ry="3" fill="#cccccc" opacity="0.6" filter="url(#b1)"/>
<rect x="41.50" y="619.50" width="8.00" height="3.00" rx="1.50" fill="#e1e1e1" filter="url(#b1)"/>
<rect x="61.50" y="619.25" width="10.00" height="3.50" rx="1.75" fill="#d7d7d7" filter="url(#b1)"/>
<rect x="76.50" y="619.00" width="14.00" height="4.00" rx="2.00" fill="#6e6e6e" filter="url(#b1)"/>
<rect x="93.80" y="617.50" width="13.00" height="7.00" rx="3.50" fill="#0f0f0f" filter="url(#b1)"/>
<rect x="107.80" y="617.25" width="15.00" height="7.50" rx="3.75" fill="#0a0a0a" filter="url(#b1)"/>
<rect x="125.30" y="617.25" width="15.00" height="7.50" rx="3.75" fill="#0a0a0a" filter="url(#b1)"/>
<rect x="141.45" y="617.25" width="15.50" height="7.50" rx="3.75" fill="#0a0a0a" filter="url(#b1)"/>
<rect x="158.70" y="617.25" width="14.00" height="7.50" rx="3.75" fill="#0a0a0a" filter="url(#b1)"/>
<rect x="174.85" y="617.50" width="14.50" height="7.00" rx="3.50" fill="#0f0f0f" filter="url(#b1)"/>
<rect x="192.45" y="617.75" width="12.50" height="6.50" rx="3.25" fill="#191919" filter="url(#b1)"/>
<rect x="209.85" y="618.00" width="11.50" height="6.00" rx="3.00" fill="#282828" filter="url(#b1)"/>
<rect x="228.05" y="618.50" width="9.50" height="5.00" rx="2.50" fill="#aaaaaa" filter="url(#b1)"/>
<rect x="38.6" y="608" width="202.9" height="25.299999999999955" fill="#000" opacity="0.07" filter="url(#noise)"/>
</g>
<rect x="38.60" y="608.00" width="202.90" height="25.30" fill="none" stroke="#111" stroke-width="1.6" />
<rect x="39.80" y="573.00" width="36.40" height="65.00" fill="none" stroke="#3344dd" stroke-width="1.4" />
<clipPath id="c12"><rect x="38.2" y="651.8" width="204.39999999999998" height="21.800000000000068"/></clipPath>
<g clip-path="url(#c12)">
<rect x="38.20" y="651.80" width="204.40" height="21.80" fill="#e2e2e2" stroke="none" stroke-width="1" />
<ellipse cx="100.3" cy="669" rx="6" ry="3" fill="#b8b8b8" opacity="0.5" filter="url(#b1)"/>
<ellipse cx="115.3" cy="669" rx="6" ry="3" fill="#b8b8b8" opacity="0.5" filter="url(#b1)"/>
<ellipse cx="132.8" cy="669" rx="6" ry="3" fill="#b8b8b8" opacity="0.5" filter="url(#b1)"/>
<ellipse cx="149.2" cy="669" rx="6" ry="3" fill="#b8b8b8" opacity="0.5" filter="url(#b1)"/>
<ellipse cx="165.7" cy="669" rx="6" ry="3" fill="#b8b8b8" opacity="0.5" filter="url(#b1)"/>
<ellipse cx="182.1" cy="669" rx="6" ry="3" fill="#b8b8b8" opacity="0.5" filter="url(#b1)"/>
<ellipse cx="198.7" cy="669" rx="6" ry="3" fill="#b8b8b8" opacity="0.5" filter="url(#b1)"/>
<ellipse cx="215.6" cy="669" rx="6" ry="3" fill="#b8b8b8" opacity="0.5" filter="url(#b1)"/>
<rect x="39.25" y="662.50" width="12.50" height="3.00" rx="1.50" fill="#787878" filter="url(#b1)"/>
<rect x="60.50" y="662.50" width="12.00" height="3.00" rx="1.50" fill="#878787" filter="url(#b1)"/>
<rect x="76.75" y="662.50" width="13.50" height="3.00" rx="1.50" fill="#8c8c8c" filter="url(#b1)"/>
<rect x="92.55" y="661.20" width="15.50" height="5.60" rx="2.80" fill="#0c0c0c" filter="url(#b1)"/>
<rect x="107.30" y="661.20" width="16.00" height="5.60" rx="2.80" fill="#080808" filter="url(#b1)"/>
<rect x="125.05" y="661.20" width="15.50" height="5.60" rx="2.80" fill="#080808" filter="url(#b1)"/>
<rect x="141.45" y="661.20" width="15.50" height="5.60" rx="2.80" fill="#0c0c0c" filter="url(#b1)"/>
<rect x="157.95" y="661.20" width="15.50" height="5.60" rx="2.80" fill="#080808" filter="url(#b1)"/>
<rect x="174.60" y="661.20" width="15.00" height="5.60" rx="2.80" fill="#080808" filter="url(#b1)"/>
<rect x="190.95" y="661.20" width="15.50" height="5.60" rx="2.80" fill="#0c0c0c" filter="url(#b1)"/>
<rect x="208.85" y="661.60" width="13.50" height="4.80" rx="2.40" fill="#373737" filter="url(#b1)"/>
<rect x="227.05" y="662.40" width="11.50" height="3.20" rx="1.60" fill="#828282" filter="url(#b1)"/>
<rect x="93.17" y="667.20" width="14.26" height="2.20" rx="1.10" fill="#8c8c8c" filter="url(#b1)"/>
<rect x="93.17" y="669.90" width="14.26" height="2.20" rx="1.10" fill="#a6a6a6" filter="url(#b1)"/>
<rect x="107.94" y="667.20" width="14.72" height="2.20" rx="1.10" fill="#8a8a8a" filter="url(#b1)"/>
<rect x="107.94" y="669.90" width="14.72" height="2.20" rx="1.10" fill="#a4a4a4" filter="url(#b1)"/>
<rect x="125.67" y="667.20" width="14.26" height="2.20" rx="1.10" fill="#8a8a8a" filter="url(#b1)"/>
<rect x="125.67" y="669.90" width="14.26" height="2.20" rx="1.10" fill="#a4a4a4" filter="url(#b1)"/>
<rect x="142.07" y="667.20" width="14.26" height="2.20" rx="1.10" fill="#8c8c8c" filter="url(#b1)"/>
<rect x="142.07" y="669.90" width="14.26" height="2.20" rx="1.10" fill="#a6a6a6" filter="url(#b1)"/>
<rect x="158.57" y="667.20" width="14.26" height="2.20" rx="1.10" fill="#8a8a8a" filter="url(#b1)"/>
<rect x="158.57" y="669.90" width="14.26" height="2.20" rx="1.10" fill="#a4a4a4" filter="url(#b1)"/>
<rect x="175.20" y="667.20" width="13.80" height="2.20" rx="1.10" fill="#8a8a8a" filter="url(#b1)"/>
<rect x="175.20" y="669.90" width="13.80" height="2.20" rx="1.10" fill="#a4a4a4" filter="url(#b1)"/>
<rect x="191.57" y="667.20" width="14.26" height="2.20" rx="1.10" fill="#8c8c8c" filter="url(#b1)"/>
<rect x="191.57" y="669.90" width="14.26" height="2.20" rx="1.10" fill="#a6a6a6" filter="url(#b1)"/>
<rect x="38.2" y="651.8" width="204.39999999999998" height="21.800000000000068" fill="#000" opacity="0.06" filter="url(#noise)"/>
</g>
<rect x="38.20" y="651.80" width="204.40" height="21.80" fill="none" stroke="#111" stroke-width="1.6" />
<clipPath id="c13"><rect x="38.2" y="679.3" width="204.39999999999998" height="19.700000000000045"/></clipPath>
<g clip-path="url(#c13)">
<rect x="38.20" y="679.30" width="204.40" height="19.70" fill="#e8e8e8" stroke="none" stroke-width="1" />
<ellipse cx="205" cy="689" rx="45" ry="14" fill="#c2c2c2" opacity="0.7" filter="url(#b4)"/>
<ellipse cx="150" cy="680" rx="40" ry="4" fill="#d0d0d0" opacity="0.5" filter="url(#b4)"/>
<rect x="39.50" y="686.00" width="12.00" height="6.00" rx="3.00" fill="#bebebe" filter="url(#b15)"/>
<rect x="59.50" y="685.50" width="14.00" height="7.00" rx="3.50" fill="#969696" filter="url(#b15)"/>
<rect x="75.75" y="684.75" width="15.50" height="8.50" rx="4.25" fill="#0a0a0a" filter="url(#b15)"/>
<rect x="92.05" y="684.25" width="16.50" height="9.50" rx="4.75" fill="#080808" filter="url(#b15)"/>
<rect x="107.05" y="684.50" width="16.50" height="9.00" rx="4.50" fill="#080808" filter="url(#b15)"/>
<rect x="125.05" y="684.75" width="15.50" height="8.50" rx="4.25" fill="#0a0a0a" filter="url(#b15)"/>
<rect x="141.70" y="684.25" width="15.00" height="9.50" rx="4.75" fill="#080808" filter="url(#b15)"/>
<rect x="158.70" y="685.50" width="14.00" height="7.00" rx="3.50" fill="#5f5f5f" filter="url(#b15)"/>
<rect x="175.10" y="685.50" width="14.00" height="7.00" rx="3.50" fill="#414141" filter="url(#b15)"/>
<rect x="191.70" y="685.75" width="14.00" height="6.50" rx="3.25" fill="#464646" filter="url(#b15)"/>
<rect x="209.10" y="686.00" width="13.00" height="6.00" rx="3.00" fill="#878787" filter="url(#b15)"/>
<rect x="226.80" y="685.75" width="12.00" height="6.50" rx="3.25" fill="#969696" filter="url(#b15)"/>
<rect x="38.2" y="679.3" width="204.39999999999998" height="19.700000000000045" fill="#000" opacity="0.12" filter="url(#noise)"/>
</g>
<rect x="38.20" y="679.30" width="204.40" height="19.70" fill="none" stroke="#111" stroke-width="1.6" />
<rect x="39.80" y="648.80" width="34.30" height="54.40" fill="none" stroke="#dd2222" stroke-width="1.4" />
<clipPath id="cI"><rect x="307.5" y="617" width="139" height="81.5"/></clipPath>
<g clip-path="url(#cI)">
<rect x="307.50" y="617.00" width="139.00" height="81.50" fill="#f7f7f7" stroke="none" stroke-width="1" />
<linearGradient id="lg1" x1="0" y1="0" x2="0" y2="1"><stop offset="0" stop-color="#707070"/><stop offset="0.3" stop-color="#6a6a6a"/><stop offset="0.42" stop-color="#3a3a3a"/><stop offset="0.52" stop-color="#202020"/><stop offset="0.66" stop-color="#555"/><stop offset="0.82" stop-color="#999"/><stop offset="1" stop-color="#bdbdbd"/></linearGradient>
<linearGradient id="lg3" x1="0" y1="0" x2="0" y2="1"><stop offset="0" stop-color="#4e4e4e"/><stop offset="0.3" stop-color="#525252"/><stop offset="0.42" stop-color="#404040"/><stop offset="0.5" stop-color="#1e1e1e"/><stop offset="0.64" stop-color="#4a4a4a"/><stop offset="0.82" stop-color="#999"/><stop offset="1" stop-color="#bbb"/></linearGradient>
<rect x="312" y="610" width="13.5" height="95" fill="url(#lg1)" filter="url(#b15)"/>
<ellipse cx="318.5" cy="658" rx="5.5" ry="5" fill="#151515" filter="url(#b15)"/>
<ellipse cx="318.5" cy="648" rx="5" ry="4" fill="#2a2a2a" filter="url(#b15)"/>
<rect x="383" y="610" width="12.5" height="95" fill="url(#lg3)" filter="url(#b15)"/>
<ellipse cx="389" cy="657" rx="5" ry="5" fill="#151515" filter="url(#b15)"/>
<rect x="337" y="650" width="36" height="12" fill="#aaaaaa" filter="url(#b1)"/>
<path d="M335.5,645.2 Q340.5,648.2 355.15,648.2 Q369.8,648.2 374.8,645.2 L374.8,649.8 Q369.8,652.8 355.15,652.8 Q340.5,652.8 335.5,649.8 Z" fill="#262626" filter="url(#b1)"/>
<path d="M336.5,656.3499999999999 Q341.5,659.55 355.15,659.55 Q368.8,659.55 373.8,656.3499999999999 L373.8,661.8499999999999 Q368.8,665.05 355.15,665.05 Q341.5,665.05 336.5,661.8499999999999 Z" fill="#6e6e6e" filter="url(#b1)"/>
<rect x="403" y="652.5" width="38" height="12" fill="#b0b0b0" filter="url(#b1)"/>
<path d="M401.5,647.7 Q406.5,650.5 422.25,650.5 Q438,650.5 443,647.7 L443,652.3 Q438,655.0999999999999 422.25,655.0999999999999 Q406.5,655.0999999999999 401.5,652.3 Z" fill="#222" filter="url(#b1)"/>
<path d="M402.8,658.8499999999999 Q407.8,662.05 422.4,662.05 Q437,662.05 442,658.8499999999999 L442,664.3499999999999 Q437,667.55 422.4,667.55 Q407.8,667.55 402.8,664.3499999999999 Z" fill="#727272" filter="url(#b1)"/>
<rect x="307.5" y="617" width="139" height="81.5" fill="#000" opacity="0.05" filter="url(#noise)"/>
</g>
<rect x="307.50" y="617.00" width="139.00" height="81.50" fill="none" stroke="#8a8a8a" stroke-width="0.9" />
<text x="1.00" y="287.00" font-size="11" fill="#000" color="#000" font-weight="bold" text-anchor="start"  style="">E</text>
<text x="46.25" y="288.80" font-size="10.5" fill="#000" color="#000" font-weight="normal" text-anchor="middle"  style="">21</text>
<text x="62.25" y="288.80" font-size="10.5" fill="#000" color="#000" font-weight="normal" text-anchor="middle"  style="">22</text>
<text x="79.00" y="288.80" font-size="10.5" fill="#000" color="#000" font-weight="normal" text-anchor="middle"  style="">23</text>
<text x="95.50" y="288.80" font-size="10.5" fill="#000" color="#000" font-weight="normal" text-anchor="middle"  style="">24</text>
<text x="111.25" y="288.80" font-size="10.5" fill="#000" color="#000" font-weight="normal" text-anchor="middle"  style="">25</text>
<text x="129.10" y="288.80" font-size="10.5" fill="#000" color="#000" font-weight="normal" text-anchor="middle"  style="">26</text>
<text x="143.75" y="288.80" font-size="10.5" fill="#000" color="#000" font-weight="normal" text-anchor="middle"  style="">27</text>
<text x="161.60" y="288.80" font-size="10.5" fill="#000" color="#000" font-weight="normal" text-anchor="middle"  style="">28</text>
<text x="176.25" y="288.80" font-size="10.5" fill="#000" color="#000" font-weight="normal" text-anchor="middle"  style="">29</text>
<text x="193.40" y="288.80" font-size="10.5" fill="#000" color="#000" font-weight="normal" text-anchor="middle"  style="">30</text>
<text x="206.60" y="288.80" font-size="10.5" fill="#000" color="#000" font-weight="normal" text-anchor="middle"  style="">31</text>
<text x="224.40" y="288.80" font-size="10.5" fill="#000" color="#000" font-weight="normal" text-anchor="middle"  style="">32</text>
<text x="20.00" y="301.30" font-size="10.5" fill="#000" color="#000" font-weight="normal" text-anchor="start"  style="">kD</text>
<text x="38.00" y="313.00" font-size="10.5" fill="#000" color="#000" font-weight="normal" text-anchor="end"  style="">78</text>
<text x="38.00" y="345.50" font-size="10.5" fill="#000" color="#000" font-weight="normal" text-anchor="end"  style="">78</text>
<text x="38.00" y="371.30" font-size="10.5" fill="#000" color="#000" font-weight="normal" text-anchor="end"  style="">29</text>
<text x="237.40" y="311.00" font-size="11" fill="#000" color="#000" font-weight="normal" text-anchor="start"  style="">Cdt1</text>
<text x="242.90" y="323.00" font-size="11" fill="#000" color="#000" font-weight="normal" text-anchor="start"  style="">wt</text>
<text x="239.00" y="338.30" font-size="11" fill="#000" color="#000" font-weight="normal" text-anchor="start"  style="">Cdt1</text>
<text x="238.20" y="353.00" font-size="11" fill="#000" color="#000" font-weight="normal" text-anchor="start"  style="">2E3D</text>
<text x="237.40" y="372.60" font-size="11" fill="#000" color="#000" font-weight="normal" text-anchor="start"  style="">SKA1</text>
<text transform="translate(15.6,380.4) rotate(-90)" font-size="10.9">individual proteins</text>
<text x="37.5" y="397.5" font-size="11">From D<tspan font-size="7" dy="2">i</tspan></text>
<text transform="translate(17.3,460) rotate(-90)" font-size="10.5">Ska1+Cdt1-wt</text>
<text x="35.50" y="417.00" font-size="10.5" fill="#000" color="#000" font-weight="normal" text-anchor="end"  style="">78</text>
<text x="35.50" y="443.80" font-size="10.5" fill="#000" color="#000" font-weight="normal" text-anchor="end"  style="">29</text>
<text x="238.80" y="410.80" font-size="11" fill="#000" color="#000" font-weight="normal" text-anchor="start"  style="">Cdt1</text>
<text x="244.00" y="423.20" font-size="11" fill="#000" color="#000" font-weight="normal" text-anchor="start"  style="">wt</text>
<text x="238.80" y="445.40" font-size="11" fill="#000" color="#000" font-weight="normal" text-anchor="start"  style="">SKA1</text>
<text x="37.5" y="471.5" font-size="11">From D<tspan font-size="7" dy="2">ii</tspan></text>
<text transform="translate(17.3,544) rotate(-90)" font-size="10.5">Ska1+Cdt1-2E3D</text>
<text x="35.50" y="491.30" font-size="10.5" fill="#000" color="#000" font-weight="normal" text-anchor="end"  style="">78</text>
<text x="35.50" y="523.80" font-size="10.5" fill="#000" color="#000" font-weight="normal" text-anchor="end"  style="">29</text>
<text x="238.80" y="486.70" font-size="11" fill="#000" color="#000" font-weight="normal" text-anchor="start"  style="">Cdt1</text>
<text x="237.70" y="500.30" font-size="11" fill="#000" color="#000" font-weight="normal" text-anchor="start"  style="">2E3D</text>
<text x="236.80" y="525.40" font-size="11" fill="#000" color="#000" font-weight="normal" text-anchor="start"  style="">SKA1</text>
<text x="1.00" y="563.00" font-size="11" fill="#000" color="#000" font-weight="bold" text-anchor="start"  style="">F</text>
<text x="41.2" y="556.5" font-size="11">From D<tspan font-size="7" dy="2">iii</tspan></text>
<text x="23.00" y="573.00" font-size="10.5" fill="#000" color="#000" font-weight="normal" text-anchor="start"  style="">kD</text>
<text x="48.00" y="572.50" font-size="10.5" fill="#000" color="#000" font-weight="normal" text-anchor="middle"  style="">21</text>
<text x="65.25" y="572.50" font-size="10.5" fill="#000" color="#000" font-weight="normal" text-anchor="middle"  style="">22</text>
<text x="83.75" y="572.50" font-size="10.5" fill="#000" color="#000" font-weight="normal" text-anchor="middle"  style="">23</text>
<text x="99.75" y="572.50" font-size="10.5" fill="#000" color="#000" font-weight="normal" text-anchor="middle"  style="">24</text>
<text x="116.50" y="572.50" font-size="10.5" fill="#000" color="#000" font-weight="normal" text-anchor="middle"  style="">25</text>
<text x="134.75" y="572.50" font-size="10.5" fill="#000" color="#000" font-weight="normal" text-anchor="middle"  style="">26</text>
<text x="150.70" y="572.50" font-size="10.5" fill="#000" color="#000" font-weight="normal" text-anchor="middle"  style="">27</text>
<text x="167.60" y="572.50" font-size="10.5" fill="#000" color="#000" font-weight="normal" text-anchor="middle"  style="">28</text>
<text x="183.45" y="572.50" font-size="10.5" fill="#000" color="#000" font-weight="normal" text-anchor="middle"  style="">29</text>
<text x="198.45" y="572.50" font-size="10.5" fill="#000" color="#000" font-weight="normal" text-anchor="middle"  style="">30</text>
<text x="214.90" y="572.50" font-size="10.5" fill="#000" color="#000" font-weight="normal" text-anchor="middle"  style="">31</text>
<text x="232.50" y="572.50" font-size="10.5" fill="#000" color="#000" font-weight="normal" text-anchor="middle"  style="">32</text>
<text x="37.00" y="597.30" font-size="10.5" fill="#000" color="#000" font-weight="normal" text-anchor="end"  style="">78</text>
<text x="37.00" y="623.50" font-size="10.5" fill="#000" color="#000" font-weight="normal" text-anchor="end"  style="">29</text>
<text x="37.00" y="668.80" font-size="10.5" fill="#000" color="#000" font-weight="normal" text-anchor="end"  style="">78</text>
<text x="37.00" y="690.50" font-size="10.5" fill="#000" color="#000" font-weight="normal" text-anchor="end"  style="">29</text>
<text x="246.40" y="595.00" font-size="11" fill="#000" color="#000" font-weight="normal" text-anchor="start"  style="">Cdt1</text>
<text x="246.40" y="624.30" font-size="11" fill="#000" color="#000" font-weight="normal" text-anchor="start"  style="">SKA1</text>
<text x="245.40" y="666.30" font-size="11" fill="#000" color="#000" font-weight="normal" text-anchor="start"  style="">Cdt1</text>
<text x="245.00" y="691.80" font-size="11" fill="#000" color="#000" font-weight="normal" text-anchor="start"  style="">SKA1</text>
<text transform="translate(9.5,604) rotate(-90)" font-size="10.5" text-anchor="middle">Ska1+</text>
<text transform="translate(22.2,607) rotate(-90)" font-size="10.5" text-anchor="middle">Cdt1-phospho</text>
<text transform="translate(7.8,702) rotate(-90)" font-size="10.5">Ska1-phospho</text>
<text transform="translate(22.2,671) rotate(-90)" font-size="10.5" text-anchor="middle">+Cdt1</text>
<text x="294.50" y="560.20" font-size="11" fill="#000" color="#000" font-weight="bold" text-anchor="start"  style="">I</text>
<text x="292.00" y="603.30" font-size="10" fill="#000" color="#000" font-weight="normal" text-anchor="start"  style="">kD</text>
<text x="305.30" y="648.50" font-size="10.5" fill="#000" color="#000" font-weight="normal" text-anchor="end"  style="">75</text>
<text x="305.30" y="676.00" font-size="10.5" fill="#000" color="#000" font-weight="normal" text-anchor="end"  style="">50</text>
<text transform="translate(318.00,615.00) rotate(-45)" font-size="11.5">Input-HA-Cdt1-wt</text>
<text transform="translate(355.50,617.50) rotate(-45)" font-size="11.5">IP: HA-Cdt1-wt</text>
<text transform="translate(391.00,614.00) rotate(-45)" font-size="11.5">Input-HA-Cdt1-2E3D</text>
<text transform="translate(425.00,615.00) rotate(-45)" font-size="11.5">IP: HA-Cdt1-2E3D</text>
<text x="446.80" y="652.30" font-size="11.5" fill="#000" color="#000" font-weight="normal" text-anchor="start"  style="">Ndc80 (Hec1)</text>
<text x="446.80" y="669.20" font-size="11.3" fill="#000" color="#000" font-weight="normal" text-anchor="start"  style="">HA-Cdt1</text>
</svg>
</body></html>
